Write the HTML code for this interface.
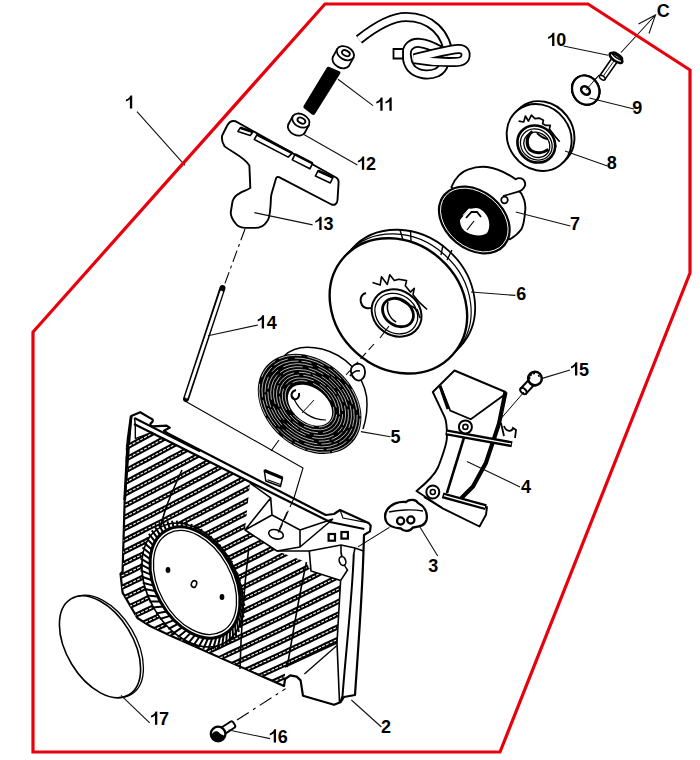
<!DOCTYPE html>
<html><head><meta charset="utf-8">
<style>
html,body{margin:0;padding:0;background:#fff;width:700px;height:760px;overflow:hidden}
svg{display:block}
.lab text{font-family:"Liberation Sans",sans-serif;font-weight:bold;font-size:18px;fill:#000}
.ld{stroke:#111;stroke-width:1.1;fill:none}
.o{stroke:#000;stroke-width:2;fill:none;stroke-linejoin:round;stroke-linecap:round}
.o1{stroke:#000;stroke-width:1.4;fill:none;stroke-linejoin:round;stroke-linecap:round}
.w{fill:#fff}
</style></head><body>
<svg width="700" height="760" viewBox="0 0 700 760">
<!-- PARTS -->
<g id="parts">
<!-- HOUSING part 2 -->
<defs>
<clipPath id="grill">
<path d="M126,441 L135,439 L152.4,432.1 L250,483 L245,530 L277,551 L306,562 L311,571 L340.6,580.6 L337,643 L285,667 L285,686 L169,635 L150,626 L137,618 L122.6,592.6 L120.5,573.7 L122.6,571.6 L124.7,500 Z"/>
</clipPath>
</defs>
<g id="housing">
<path d="M131.2,416 L140.2,412.2 L151.1,418.6 C154,420 153,422 150.5,423.5 C150,425 151,426.3 153,426.3 L166.6,425.7 L169.8,427.6 L164,430.8 L168,433.5 L325.7,515 L334,514 L340,510 L368.6,522.9 L370.7,525.7 L370,531.4 L364,535 L363.5,551 C362,600 358,650 355,695 L344,697 L340.4,702.3 L334,704.8 L303,695.8 L300.6,680.4 L296.7,676.6 L290.3,675.3 L285.1,679 L284,686 L169,635 L150,626 L137.4,618 L122.6,592.6 L120.5,573.7 L122.6,571.6 L124.7,500 Z" fill="#fff" stroke="#000" stroke-width="2.2" stroke-linejoin="round"/>
<g clip-path="url(#grill)">
<path d="M110,399.1 L116,395.8 L122,392.4 L128,389.0 L134,385.6 L140,382.2 L146,378.8 L152,375.4 L158,372.0 L164,368.6 L170,365.1 L176,361.7 L182,358.2 L188,354.7 L194,351.2 L200,347.7 L206,344.2 L212,340.7 L218,337.2 L224,333.6 L230,330.1 L236,326.5 L242,323.0 L248,319.4 L254,315.8 L260,312.2 L266,308.6 L272,305.0 L278,301.3 L284,297.7 L290,294.0 L296,290.4 L302,286.7 L308,283.0 L314,279.3 L320,275.6 L326,271.9 L332,268.2 L338,264.4 L344,260.7 L350,256.9 L356,253.2 L362,249.4 M110,410.5 L116,407.2 L122,403.9 L128,400.5 L134,397.2 L140,393.8 L146,390.4 L152,387.0 L158,383.6 L164,380.2 L170,376.8 L176,373.4 L182,369.9 L188,366.5 L194,363.0 L200,359.6 L206,356.1 L212,352.6 L218,349.1 L224,345.6 L230,342.1 L236,338.5 L242,335.0 L248,331.4 L254,327.9 L260,324.3 L266,320.7 L272,317.1 L278,313.5 L284,309.9 L290,306.3 L296,302.7 L302,299.0 L308,295.4 L314,291.7 L320,288.0 L326,284.3 L332,280.6 L338,276.9 L344,273.2 L350,269.5 L356,265.8 L362,262.0 M110,421.9 L116,418.6 L122,415.3 L128,412.0 L134,408.7 L140,405.3 L146,402.0 L152,398.6 L158,395.3 L164,391.9 L170,388.5 L176,385.1 L182,381.7 L188,378.3 L194,374.8 L200,371.4 L206,367.9 L212,364.5 L218,361.0 L224,357.5 L230,354.0 L236,350.5 L242,347.0 L248,343.5 L254,340.0 L260,336.4 L266,332.9 L272,329.3 L278,325.7 L284,322.2 L290,318.6 L296,315.0 L302,311.3 L308,307.7 L314,304.1 L320,300.4 L326,296.8 L332,293.1 L338,289.4 L344,285.7 L350,282.0 L356,278.3 L362,274.6 M110,433.3 L116,430.1 L122,426.8 L128,423.5 L134,420.2 L140,416.9 L146,413.6 L152,410.2 L158,406.9 L164,403.6 L170,400.2 L176,396.8 L182,393.4 L188,390.0 L194,386.6 L200,383.2 L206,379.8 L212,376.4 L218,372.9 L224,369.5 L230,366.0 L236,362.5 L242,359.1 L248,355.6 L254,352.1 L260,348.5 L266,345.0 L272,341.5 L278,337.9 L284,334.4 L290,330.8 L296,327.2 L302,323.7 L308,320.1 L314,316.5 L320,312.8 L326,309.2 L332,305.6 L338,301.9 L344,298.3 L350,294.6 L356,290.9 L362,287.2 M110,444.7 L116,441.5 L122,438.2 L128,435.0 L134,431.7 L140,428.4 L146,425.1 L152,421.8 L158,418.5 L164,415.2 L170,411.9 L176,408.5 L182,405.2 L188,401.8 L194,398.5 L200,395.1 L206,391.7 L212,388.3 L218,384.9 L224,381.4 L230,378.0 L236,374.6 L242,371.1 L248,367.6 L254,364.2 L260,360.7 L266,357.2 L272,353.7 L278,350.1 L284,346.6 L290,343.1 L296,339.5 L302,336.0 L308,332.4 L314,328.8 L320,325.2 L326,321.6 L332,318.0 L338,314.4 L344,310.8 L350,307.1 L356,303.5 L362,299.8 M110,456.1 L116,452.9 L122,449.7 L128,446.5 L134,443.2 L140,440.0 L146,436.7 L152,433.5 L158,430.2 L164,426.9 L170,423.6 L176,420.3 L182,416.9 L188,413.6 L194,410.3 L200,406.9 L206,403.5 L212,400.2 L218,396.8 L224,393.4 L230,390.0 L236,386.6 L242,383.1 L248,379.7 L254,376.2 L260,372.8 L266,369.3 L272,365.8 L278,362.4 L284,358.9 L290,355.3 L296,351.8 L302,348.3 L308,344.8 L314,341.2 L320,337.6 L326,334.1 L332,330.5 L338,326.9 L344,323.3 L350,319.7 L356,316.1 L362,312.4 M110,467.5 L116,464.4 L122,461.2 L128,458.0 L134,454.8 L140,451.5 L146,448.3 L152,445.1 L158,441.8 L164,438.5 L170,435.3 L176,432.0 L182,428.7 L188,425.4 L194,422.1 L200,418.7 L206,415.4 L212,412.0 L218,408.7 L224,405.3 L230,401.9 L236,398.6 L242,395.2 L248,391.8 L254,388.3 L260,384.9 L266,381.5 L272,378.0 L278,374.6 L284,371.1 L290,367.6 L296,364.1 L302,360.6 L308,357.1 L314,353.6 L320,350.0 L326,346.5 L332,343.0 L338,339.4 L344,335.8 L350,332.2 L356,328.6 L362,325.0 M110,479.0 L116,475.8 L122,472.6 L128,469.5 L134,466.3 L140,463.1 L146,459.9 L152,456.7 L158,453.4 L164,450.2 L170,447.0 L176,443.7 L182,440.4 L188,437.2 L194,433.9 L200,430.6 L206,427.3 L212,423.9 L218,420.6 L224,417.3 L230,413.9 L236,410.6 L242,407.2 L248,403.8 L254,400.4 L260,397.0 L266,393.6 L272,390.2 L278,386.8 L284,383.3 L290,379.9 L296,376.4 L302,372.9 L308,369.4 L314,366.0 L320,362.5 L326,358.9 L332,355.4 L338,351.9 L344,348.3 L350,344.8 L356,341.2 L362,337.6 M110,490.4 L116,487.2 L122,484.1 L128,481.0 L134,477.8 L140,474.6 L146,471.5 L152,468.3 L158,465.1 L164,461.9 L170,458.6 L176,455.4 L182,452.2 L188,448.9 L194,445.7 L200,442.4 L206,439.1 L212,435.8 L218,432.5 L224,429.2 L230,425.9 L236,422.6 L242,419.2 L248,415.9 L254,412.5 L260,409.1 L266,405.8 L272,402.4 L278,399.0 L284,395.6 L290,392.1 L296,388.7 L302,385.3 L308,381.8 L314,378.3 L320,374.9 L326,371.4 L332,367.9 L338,364.4 L344,360.9 L350,357.3 L356,353.8 L362,350.2 M110,501.8 L116,498.7 L122,495.6 L128,492.4 L134,489.3 L140,486.2 L146,483.0 L152,479.9 L158,476.7 L164,473.5 L170,470.3 L176,467.1 L182,463.9 L188,460.7 L194,457.5 L200,454.2 L206,451.0 L212,447.7 L218,444.4 L224,441.2 L230,437.9 L236,434.6 L242,431.3 L248,427.9 L254,424.6 L260,421.3 L266,417.9 L272,414.5 L278,411.2 L284,407.8 L290,404.4 L296,401.0 L302,397.6 L308,394.1 L314,390.7 L320,387.3 L326,383.8 L332,380.3 L338,376.9 L344,373.4 L350,369.9 L356,366.4 L362,362.8 M110,513.2 L116,510.1 L122,507.0 L128,503.9 L134,500.8 L140,497.7 L146,494.6 L152,491.5 L158,488.3 L164,485.2 L170,482.0 L176,478.9 L182,475.7 L188,472.5 L194,469.3 L200,466.1 L206,462.8 L212,459.6 L218,456.4 L224,453.1 L230,449.9 L236,446.6 L242,443.3 L248,440.0 L254,436.7 L260,433.4 L266,430.1 L272,426.7 L278,423.4 L284,420.0 L290,416.7 L296,413.3 L302,409.9 L308,406.5 L314,403.1 L320,399.7 L326,396.2 L332,392.8 L338,389.4 L344,385.9 L350,382.4 L356,378.9 L362,375.5 M110,524.6 L116,521.5 L122,518.5 L128,515.4 L134,512.4 L140,509.3 L146,506.2 L152,503.1 L158,500.0 L164,496.8 L170,493.7 L176,490.6 L182,487.4 L188,484.3 L194,481.1 L200,477.9 L206,474.7 L212,471.5 L218,468.3 L224,465.1 L230,461.8 L236,458.6 L242,455.3 L248,452.1 L254,448.8 L260,445.5 L266,442.2 L272,438.9 L278,435.6 L284,432.3 L290,428.9 L296,425.6 L302,422.2 L308,418.8 L314,415.5 L320,412.1 L326,408.7 L332,405.3 L338,401.8 L344,398.4 L350,395.0 L356,391.5 L362,388.1 M110,536.0 L116,533.0 L122,529.9 L128,526.9 L134,523.9 L140,520.8 L146,517.8 L152,514.7 L158,511.6 L164,508.5 L170,505.4 L176,502.3 L182,499.2 L188,496.0 L194,492.9 L200,489.7 L206,486.6 L212,483.4 L218,480.2 L224,477.0 L230,473.8 L236,470.6 L242,467.4 L248,464.1 L254,460.9 L260,457.6 L266,454.4 L272,451.1 L278,447.8 L284,444.5 L290,441.2 L296,437.9 L302,434.5 L308,431.2 L314,427.8 L320,424.5 L326,421.1 L332,417.7 L338,414.3 L344,410.9 L350,407.5 L356,404.1 L362,400.7 M110,547.4 L116,544.4 L122,541.4 L128,538.4 L134,535.4 L140,532.4 L146,529.3 L152,526.3 L158,523.2 L164,520.2 L170,517.1 L176,514.0 L182,510.9 L188,507.8 L194,504.7 L200,501.6 L206,498.4 L212,495.3 L218,492.1 L224,489.0 L230,485.8 L236,482.6 L242,479.4 L248,476.2 L254,473.0 L260,469.7 L266,466.5 L272,463.2 L278,460.0 L284,456.7 L290,453.4 L296,450.1 L302,446.8 L308,443.5 L314,440.2 L320,436.9 L326,433.5 L332,430.2 L338,426.8 L344,423.5 L350,420.1 L356,416.7 L362,413.3 M110,558.8 L116,555.8 L122,552.9 L128,549.9 L134,546.9 L140,543.9 L146,540.9 L152,537.9 L158,534.9 L164,531.8 L170,528.8 L176,525.7 L182,522.7 L188,519.6 L194,516.5 L200,513.4 L206,510.3 L212,507.2 L218,504.0 L224,500.9 L230,497.8 L236,494.6 L242,491.4 L248,488.2 L254,485.1 L260,481.9 L266,478.6 L272,475.4 L278,472.2 L284,469.0 L290,465.7 L296,462.4 L302,459.2 L308,455.9 L314,452.6 L320,449.3 L326,446.0 L332,442.6 L338,439.3 L344,436.0 L350,432.6 L356,429.2 L362,425.9 M110,570.2 L116,567.3 L122,564.3 L128,561.4 L134,558.4 L140,555.5 L146,552.5 L152,549.5 L158,546.5 L164,543.5 L170,540.5 L176,537.4 L182,534.4 L188,531.4 L194,528.3 L200,525.2 L206,522.2 L212,519.1 L218,516.0 L224,512.9 L230,509.7 L236,506.6 L242,503.5 L248,500.3 L254,497.1 L260,494.0 L266,490.8 L272,487.6 L278,484.4 L284,481.2 L290,478.0 L296,474.7 L302,471.5 L308,468.2 L314,465.0 L320,461.7 L326,458.4 L332,455.1 L338,451.8 L344,448.5 L350,445.2 L356,441.8 L362,438.5 M110,581.6 L116,578.7 L122,575.8 L128,572.9 L134,569.9 L140,567.0 L146,564.1 L152,561.1 L158,558.1 L164,555.2 L170,552.2 L176,549.2 L182,546.2 L188,543.1 L194,540.1 L200,537.1 L206,534.0 L212,531.0 L218,527.9 L224,524.8 L230,521.7 L236,518.6 L242,515.5 L248,512.4 L254,509.2 L260,506.1 L266,502.9 L272,499.8 L278,496.6 L284,493.4 L290,490.2 L296,487.0 L302,483.8 L308,480.6 L314,477.3 L320,474.1 L326,470.8 L332,467.6 L338,464.3 L344,461.0 L350,457.7 L356,454.4 L362,451.1 M110,593.0 L116,590.1 L122,587.3 L128,584.4 L134,581.5 L140,578.6 L146,575.6 L152,572.7 L158,569.8 L164,566.8 L170,563.9 L176,560.9 L182,557.9 L188,554.9 L194,551.9 L200,548.9 L206,545.9 L212,542.8 L218,539.8 L224,536.7 L230,533.7 L236,530.6 L242,527.5 L248,524.4 L254,521.3 L260,518.2 L266,515.1 L272,512.0 L278,508.8 L284,505.7 L290,502.5 L296,499.3 L302,496.1 L308,492.9 L314,489.7 L320,486.5 L326,483.3 L332,480.0 L338,476.8 L344,473.5 L350,470.3 L356,467.0 L362,463.7 M110,604.4 L116,601.6 L122,598.7 L128,595.9 L134,593.0 L140,590.1 L146,587.2 L152,584.3 L158,581.4 L164,578.5 L170,575.5 L176,572.6 L182,569.7 L188,566.7 L194,563.7 L200,560.7 L206,557.7 L212,554.7 L218,551.7 L224,548.7 L230,545.7 L236,542.6 L242,539.6 L248,536.5 L254,533.4 L260,530.3 L266,527.2 L272,524.1 L278,521.0 L284,517.9 L290,514.7 L296,511.6 L302,508.4 L308,505.3 L314,502.1 L320,498.9 L326,495.7 L332,492.5 L338,489.3 L344,486.0 L350,482.8 L356,479.6 L362,476.3 M110,615.8 L116,613.0 L122,610.2 L128,607.3 L134,604.5 L140,601.7 L146,598.8 L152,595.9 L158,593.0 L164,590.1 L170,587.2 L176,584.3 L182,581.4 L188,578.5 L194,575.5 L200,572.6 L206,569.6 L212,566.6 L218,563.6 L224,560.6 L230,557.6 L236,554.6 L242,551.6 L248,548.6 L254,545.5 L260,542.5 L266,539.4 L272,536.3 L278,533.2 L284,530.1 L290,527.0 L296,523.9 L302,520.8 L308,517.6 L314,514.5 L320,511.3 L326,508.1 L332,505.0 L338,501.8 L344,498.6 L350,495.4 L356,492.1 L362,488.9 M110,627.2 L116,624.4 L122,621.6 L128,618.8 L134,616.0 L140,613.2 L146,610.4 L152,607.5 L158,604.7 L164,601.8 L170,598.9 L176,596.0 L182,593.1 L188,590.2 L194,587.3 L200,584.4 L206,581.5 L212,578.5 L218,575.6 L224,572.6 L230,569.6 L236,566.6 L242,563.6 L248,560.6 L254,557.6 L260,554.6 L266,551.5 L272,548.5 L278,545.4 L284,542.4 L290,539.3 L296,536.2 L302,533.1 L308,530.0 L314,526.8 L320,523.7 L326,520.6 L332,517.4 L338,514.3 L344,511.1 L350,507.9 L356,504.7 L362,501.5 M110,638.6 L116,635.9 L122,633.1 L128,630.3 L134,627.5 L140,624.7 L146,621.9 L152,619.1 L158,616.3 L164,613.5 L170,610.6 L176,607.8 L182,604.9 L188,602.0 L194,599.1 L200,596.2 L206,593.3 L212,590.4 L218,587.5 L224,584.5 L230,581.6 L236,578.6 L242,575.7 L248,572.7 L254,569.7 L260,566.7 L266,563.7 L272,560.7 L278,557.6 L284,554.6 L290,551.5 L296,548.5 L302,545.4 L308,542.3 L314,539.2 L320,536.1 L326,533.0 L332,529.9 L338,526.7 L344,523.6 L350,520.4 L356,517.3 L362,514.1 M110,650.0 L116,647.3 L122,644.6 L128,641.8 L134,639.1 L140,636.3 L146,633.5 L152,630.7 L158,627.9 L164,625.1 L170,622.3 L176,619.5 L182,616.6 L188,613.8 L194,610.9 L200,608.1 L206,605.2 L212,602.3 L218,599.4 L224,596.5 L230,593.6 L236,590.6 L242,587.7 L248,584.7 L254,581.8 L260,578.8 L266,575.8 L272,572.8 L278,569.8 L284,566.8 L290,563.8 L296,560.8 L302,557.7 L308,554.7 L314,551.6 L320,548.5 L326,545.4 L332,542.3 L338,539.2 L344,536.1 L350,533.0 L356,529.9 L362,526.7 M110,661.4 L116,658.7 L122,656.0 L128,653.3 L134,650.6 L140,647.8 L146,645.1 L152,642.3 L158,639.6 L164,636.8 L170,634.0 L176,631.2 L182,628.4 L188,625.6 L194,622.7 L200,619.9 L206,617.0 L212,614.2 L218,611.3 L224,608.4 L230,605.5 L236,602.6 L242,599.7 L248,596.8 L254,593.9 L260,590.9 L266,588.0 L272,585.0 L278,582.0 L284,579.1 L290,576.1 L296,573.1 L302,570.0 L308,567.0 L314,564.0 L320,560.9 L326,557.9 L332,554.8 L338,551.7 L344,548.6 L350,545.5 L356,542.4 L362,539.3 M110,672.8 L116,670.2 L122,667.5 L128,664.8 L134,662.1 L140,659.4 L146,656.7 L152,653.9 L158,651.2 L164,648.5 L170,645.7 L176,642.9 L182,640.1 L188,637.3 L194,634.5 L200,631.7 L206,628.9 L212,626.1 L218,623.2 L224,620.4 L230,617.5 L236,614.6 L242,611.8 L248,608.9 L254,606.0 L260,603.0 L266,600.1 L272,597.2 L278,594.2 L284,591.3 L290,588.3 L296,585.3 L302,582.4 L308,579.4 L314,576.4 L320,573.3 L326,570.3 L332,567.3 L338,564.2 L344,561.2 L350,558.1 L356,555.0 L362,551.9 M110,684.2 L116,681.6 L122,678.9 L128,676.3 L134,673.6 L140,670.9 L146,668.2 L152,665.5 L158,662.8 L164,660.1 L170,657.4 L176,654.6 L182,651.9 L188,649.1 L194,646.4 L200,643.6 L206,640.8 L212,638.0 L218,635.2 L224,632.3 L230,629.5 L236,626.7 L242,623.8 L248,620.9 L254,618.1 L260,615.2 L266,612.3 L272,609.4 L278,606.4 L284,603.5 L290,600.6 L296,597.6 L302,594.7 L308,591.7 L314,588.7 L320,585.7 L326,582.7 L332,579.7 L338,576.7 L344,573.7 L350,570.6 L356,567.6 L362,564.5 M110,695.6 L116,693.0 L122,690.4 L128,687.8 L134,685.1 L140,682.5 L146,679.8 L152,677.2 L158,674.5 L164,671.8 L170,669.1 L176,666.4 L182,663.6 L188,660.9 L194,658.2 L200,655.4 L206,652.6 L212,649.9 L218,647.1 L224,644.3 L230,641.5 L236,638.7 L242,635.8 L248,633.0 L254,630.1 L260,627.3 L266,624.4 L272,621.5 L278,618.7 L284,615.8 L290,612.8 L296,609.9 L302,607.0 L308,604.1 L314,601.1 L320,598.1 L326,595.2 L332,592.2 L338,589.2 L344,586.2 L350,583.2 L356,580.2 L362,577.1 M110,707.0 L116,704.5 L122,701.9 L128,699.3 L134,696.7 L140,694.0 L146,691.4 L152,688.8 L158,686.1 L164,683.4 L170,680.8 L176,678.1 L182,675.4 L188,672.7 L194,670.0 L200,667.2 L206,664.5 L212,661.7 L218,659.0 L224,656.2 L230,653.4 L236,650.7 L242,647.9 L248,645.1 L254,642.2 L260,639.4 L266,636.6 L272,633.7 L278,630.9 L284,628.0 L290,625.1 L296,622.2 L302,619.3 L308,616.4 L314,613.5 L320,610.5 L326,607.6 L332,604.7 L338,601.7 L344,598.7 L350,595.7 L356,592.7 L362,589.7 M110,718.5 L116,715.9 L122,713.3 L128,710.8 L134,708.2 L140,705.6 L146,703.0 L152,700.4 L158,697.7 L164,695.1 L170,692.5 L176,689.8 L182,687.1 L188,684.5 L194,681.8 L200,679.1 L206,676.4 L212,673.6 L218,670.9 L224,668.2 L230,665.4 L236,662.7 L242,659.9 L248,657.1 L254,654.3 L260,651.5 L266,648.7 L272,645.9 L278,643.1 L284,640.2 L290,637.4 L296,634.5 L302,631.6 L308,628.7 L314,625.9 L320,623.0 L326,620.0 L332,617.1 L338,614.2 L344,611.2 L350,608.3 L356,605.3 L362,602.3 M110,729.9 L116,727.3 L122,724.8 L128,722.3 L134,719.7 L140,717.1 L146,714.6 L152,712.0 L158,709.4 L164,706.8 L170,704.1 L176,701.5 L182,698.9 L188,696.2 L194,693.6 L200,690.9 L206,688.2 L212,685.5 L218,682.8 L224,680.1 L230,677.4 L236,674.7 L242,671.9 L248,669.2 L254,666.4 L260,663.6 L266,660.9 L272,658.1 L278,655.3 L284,652.5 L290,649.6 L296,646.8 L302,644.0 L308,641.1 L314,638.2 L320,635.4 L326,632.5 L332,629.6 L338,626.7 L344,623.8 L350,620.8 L356,617.9 L362,614.9 M110,741.3 L116,738.8 L122,736.3 L128,733.7 L134,731.2 L140,728.7 L146,726.1 L152,723.6 L158,721.0 L164,718.4 L170,715.8 L176,713.2 L182,710.6 L188,708.0 L194,705.4 L200,702.7 L206,700.1 L212,697.4 L218,694.7 L224,692.1 L230,689.4 L236,686.7 L242,684.0 L248,681.2 L254,678.5 L260,675.8 L266,673.0 L272,670.2 L278,667.5 L284,664.7 L290,661.9 L296,659.1 L302,656.3 L308,653.4 L314,650.6 L320,647.8 L326,644.9 L332,642.0 L338,639.2 L344,636.3 L350,633.4 L356,630.5 L362,627.5 M110,752.7 L116,750.2 L122,747.7 L128,745.2 L134,742.7 L140,740.2 L146,737.7 L152,735.2 L158,732.6 L164,730.1 L170,727.5 L176,725.0 L182,722.4 L188,719.8 L194,717.2 L200,714.6 L206,711.9 L212,709.3 L218,706.7 L224,704.0 L230,701.4 L236,698.7 L242,696.0 L248,693.3 L254,690.6 L260,687.9 L266,685.2 L272,682.4 L278,679.7 L284,676.9 L290,674.2 L296,671.4 L302,668.6 L308,665.8 L314,663.0 L320,660.2 L326,657.3 L332,654.5 L338,651.7 L344,648.8 L350,645.9 L356,643.0 L362,640.2 M110,764.1 L116,761.6 L122,759.2 L128,756.7 L134,754.3 L140,751.8 L146,749.3 L152,746.8 L158,744.3 L164,741.7 L170,739.2 L176,736.7 L182,734.1 L188,731.6 L194,729.0 L200,726.4 L206,723.8 L212,721.2 L218,718.6 L224,716.0 L230,713.3 L236,710.7 L242,708.0 L248,705.4 L254,702.7 L260,700.0 L266,697.3 L272,694.6 L278,691.9 L284,689.2 L290,686.4 L296,683.7 L302,680.9 L308,678.1 L314,675.4 L320,672.6 L326,669.8 L332,667.0 L338,664.1 L344,661.3 L350,658.5 L356,655.6 L362,652.8 M110,775.5 L116,773.1 L122,770.6 L128,768.2 L134,765.8 L140,763.3 L146,760.9 L152,758.4 L158,755.9 L164,753.4 L170,750.9 L176,748.4 L182,745.9 L188,743.3 L194,740.8 L200,738.2 L206,735.7 L212,733.1 L218,730.5 L224,727.9 L230,725.3 L236,722.7 L242,720.1 L248,717.4 L254,714.8 L260,712.1 L266,709.5 L272,706.8 L278,704.1 L284,701.4 L290,698.7 L296,696.0 L302,693.2 L308,690.5 L314,687.7 L320,685.0 L326,682.2 L332,679.4 L338,676.6 L344,673.8 L350,671.0 L356,668.2 L362,665.4 M110,786.9 L116,784.5 L122,782.1 L128,779.7 L134,777.3 L140,774.9 L146,772.4 L152,770.0 L158,767.5 L164,765.1 L170,762.6 L176,760.1 L182,757.6 L188,755.1 L194,752.6 L200,750.1 L206,747.5 L212,745.0 L218,742.4 L224,739.9 L230,737.3 L236,734.7 L242,732.1 L248,729.5 L254,726.9 L260,724.2 L266,721.6 L272,718.9 L278,716.3 L284,713.6 L290,710.9 L296,708.2 L302,705.5 L308,702.8 L314,700.1 L320,697.4 L326,694.6 L332,691.9 L338,689.1 L344,686.4 L350,683.6 L356,680.8 L362,678.0 M110,798.3 L116,795.9 L122,793.6 L128,791.2 L134,788.8 L140,786.4 L146,784.0 L152,781.6 L158,779.2 L164,776.7 L170,774.3 L176,771.8 L182,769.4 L188,766.9 L194,764.4 L200,761.9 L206,759.4 L212,756.9 L218,754.3 L224,751.8 L230,749.3 L236,746.7 L242,744.1 L248,741.5 L254,739.0 L260,736.4 L266,733.7 L272,731.1 L278,728.5 L284,725.9 L290,723.2 L296,720.5 L302,717.9 L308,715.2 L314,712.5 L320,709.8 L326,707.1 L332,704.3 L338,701.6 L344,698.9 L350,696.1 L356,693.3 L362,690.6 M110,809.7 L116,807.4 L122,805.0 L128,802.7 L134,800.3 L140,798.0 L146,795.6 L152,793.2 L158,790.8 L164,788.4 L170,786.0 L176,783.5 L182,781.1 L188,778.7 L194,776.2 L200,773.7 L206,771.3 L212,768.8 L218,766.3 L224,763.8 L230,761.2 L236,758.7 L242,756.2 L248,753.6 L254,751.0 L260,748.5 L266,745.9 L272,743.3 L278,740.7 L284,738.1 L290,735.5 L296,732.8 L302,730.2 L308,727.5 L314,724.9 L320,722.2 L326,719.5 L332,716.8 L338,714.1 L344,711.4 L350,708.7 L356,705.9 L362,703.2 M110,821.1 L116,818.8 L122,816.5 L128,814.2 L134,811.8 L140,809.5 L146,807.2 L152,804.8 L158,802.4 L164,800.1 L170,797.7 L176,795.3 L182,792.9 L188,790.4 L194,788.0 L200,785.6 L206,783.1 L212,780.7 L218,778.2 L224,775.7 L230,773.2 L236,770.7 L242,768.2 L248,765.7 L254,763.1 L260,760.6 L266,758.0 L272,755.5 L278,752.9 L284,750.3 L290,747.7 L296,745.1 L302,742.5 L308,739.9 L314,737.2 L320,734.6 L326,731.9 L332,729.3 L338,726.6 L344,723.9 L350,721.2 L356,718.5 L362,715.8 M110,832.5 L116,830.2 L122,828.0 L128,825.7 L134,823.4 L140,821.1 L146,818.7 L152,816.4 L158,814.1 L164,811.7 L170,809.4 L176,807.0 L182,804.6 L188,802.2 L194,799.8 L200,797.4 L206,795.0 L212,792.5 L218,790.1 L224,787.6 L230,785.2 L236,782.7 L242,780.2 L248,777.7 L254,775.2 L260,772.7 L266,770.2 L272,767.7 L278,765.1 L284,762.6 L290,760.0 L296,757.4 L302,754.8 L308,752.2 L314,749.6 L320,747.0 L326,744.4 L332,741.7 L338,739.1 L344,736.4 L350,733.8 L356,731.1 L362,728.4 M110,843.9 L116,841.7 L122,839.4 L128,837.2 L134,834.9 L140,832.6 L146,830.3 L152,828.0 L158,825.7 L164,823.4 L170,821.0 L176,818.7 L182,816.4 L188,814.0 L194,811.6 L200,809.2 L206,806.8 L212,804.4 L218,802.0 L224,799.6 L230,797.2 L236,794.7 L242,792.3 L248,789.8 L254,787.3 L260,784.8 L266,782.3 L272,779.8 L278,777.3 L284,774.8 L290,772.2 L296,769.7 L302,767.1 L308,764.6 L314,762.0 L320,759.4 L326,756.8 L332,754.2 L338,751.6 L344,748.9 L350,746.3 L356,743.7 L362,741.0 M110,855.3 L116,853.1 L122,850.9 L128,848.6 L134,846.4 L140,844.2 L146,841.9 L152,839.6 L158,837.3 L164,835.0 L170,832.7 L176,830.4 L182,828.1 L188,825.8 L194,823.4 L200,821.1 L206,818.7 L212,816.3 L218,813.9 L224,811.5 L230,809.1 L236,806.7 L242,804.3 L248,801.9 L254,799.4 L260,797.0 L266,794.5 L272,792.0 L278,789.5 L284,787.0 L290,784.5 L296,782.0 L302,779.5 L308,776.9 L314,774.4 L320,771.8 L326,769.2 L332,766.7 L338,764.1 L344,761.5 L350,758.9 L356,756.2 L362,753.6 M110,866.7 L116,864.5 L122,862.3 L128,860.1 L134,857.9 L140,855.7 L146,853.5 L152,851.2 L158,849.0 L164,846.7 L170,844.4 L176,842.1 L182,839.8 L188,837.5 L194,835.2 L200,832.9 L206,830.6 L212,828.2 L218,825.9 L224,823.5 L230,821.1 L236,818.7 L242,816.3 L248,813.9 L254,811.5 L260,809.1 L266,806.6 L272,804.2 L278,801.7 L284,799.3 L290,796.8 L296,794.3 L302,791.8 L308,789.3 L314,786.7 L320,784.2 L326,781.7 L332,779.1 L338,776.6 L344,774.0 L350,771.4 L356,768.8 L362,766.2 M110,878.1 L116,876.0 L122,873.8 L128,871.6 L134,869.4 L140,867.2 L146,865.0 L152,862.8 L158,860.6 L164,858.4 L170,856.1 L176,853.9 L182,851.6 L188,849.3 L194,847.0 L200,844.7 L206,842.4 L212,840.1 L218,837.8 L224,835.4 L230,833.1 L236,830.7 L242,828.4 L248,826.0 L254,823.6 L260,821.2 L266,818.8 L272,816.4 L278,813.9 L284,811.5 L290,809.0 L296,806.6 L302,804.1 L308,801.6 L314,799.1 L320,796.6 L326,794.1 L332,791.6 L338,789.0 L344,786.5 L350,783.9 L356,781.4 L362,778.8 M110,889.5 L116,887.4 L122,885.3 L128,883.1 L134,881.0 L140,878.8 L146,876.6 L152,874.4 L158,872.2 L164,870.0 L170,867.8 L176,865.6 L182,863.3 L188,861.1 L194,858.8 L200,856.6 L206,854.3 L212,852.0 L218,849.7 L224,847.4 L230,845.1 L236,842.7 L242,840.4 L248,838.0 L254,835.7 L260,833.3 L266,830.9 L272,828.5 L278,826.1 L284,823.7 L290,821.3 L296,818.9 L302,816.4 L308,814.0 L314,811.5 L320,809.0 L326,806.5 L332,804.0 L338,801.5 L344,799.0 L350,796.5 L356,794.0 L362,791.4 M110,900.9 L116,898.8 L122,896.7 L128,894.6 L134,892.5 L140,890.3 L146,888.2 L152,886.0 L158,883.9 L164,881.7 L170,879.5 L176,877.3 L182,875.1 L188,872.9 L194,870.6 L200,868.4 L206,866.1 L212,863.9 L218,861.6 L224,859.3 L230,857.0 L236,854.7 L242,852.4 L248,850.1 L254,847.8 L260,845.4 L266,843.1 L272,840.7 L278,838.3 L284,836.0 L290,833.6 L296,831.2 L302,828.7 L308,826.3 L314,823.9 L320,821.4 L326,819.0 L332,816.5 L338,814.0 L344,811.5 L350,809.0 L356,806.5 L362,804.0 M110,912.3 L116,910.3 L122,908.2 L128,906.1 L134,904.0 L140,901.9 L146,899.8 L152,897.6 L158,895.5 L164,893.4 L170,891.2 L176,889.0 L182,886.8 L188,884.6 L194,882.4 L200,880.2 L206,878.0 L212,875.8 L218,873.5 L224,871.3 L230,869.0 L236,866.7 L242,864.5 L248,862.2 L254,859.9 L260,857.5 L266,855.2 L272,852.9 L278,850.5 L284,848.2 L290,845.8 L296,843.4 L302,841.1 L308,838.7 L314,836.3 L320,833.8 L326,831.4 L332,829.0 L338,826.5 L344,824.1 L350,821.6 L356,819.1 L362,816.6 M110,923.7 L116,921.7 L122,919.6 L128,917.6 L134,915.5 L140,913.4 L146,911.3 L152,909.2 L158,907.1 L164,905.0 L170,902.9 L176,900.7 L182,898.6 L188,896.4 L194,894.3 L200,892.1 L206,889.9 L212,887.7 L218,885.5 L224,883.2 L230,881.0 L236,878.8 L242,876.5 L248,874.2 L254,872.0 L260,869.7 L266,867.4 L272,865.1 L278,862.7 L284,860.4 L290,858.1 L296,855.7 L302,853.4 L308,851.0 L314,848.6 L320,846.2 L326,843.8 L332,841.4 L338,839.0 L344,836.6 L350,834.1 L356,831.7 L362,829.2 M110,935.1 L116,933.1 L122,931.1 L128,929.1 L134,927.0 L140,925.0 L146,922.9 L152,920.9 L158,918.8 L164,916.7 L170,914.6 L176,912.5 L182,910.3 L188,908.2 L194,906.1 L200,903.9 L206,901.7 L212,899.6 L218,897.4 L224,895.2 L230,893.0 L236,890.8 L242,888.5 L248,886.3 L254,884.0 L260,881.8 L266,879.5 L272,877.2 L278,875.0 L284,872.7 L290,870.3 L296,868.0 L302,865.7 L308,863.4 L314,861.0 L320,858.6 L326,856.3 L332,853.9 L338,851.5 L344,849.1 L350,846.7 L356,844.3 L362,841.8 M110,946.5 L116,944.6 L122,942.6 L128,940.6 L134,938.6 L140,936.5 L146,934.5 L152,932.5 L158,930.4 L164,928.3 L170,926.3 L176,924.2 L182,922.1 L188,920.0 L194,917.9 L200,915.7 L206,913.6 L212,911.4 L218,909.3 L224,907.1 L230,904.9 L236,902.8 L242,900.6 L248,898.4 L254,896.1 L260,893.9 L266,891.7 L272,889.4 L278,887.2 L284,884.9 L290,882.6 L296,880.3 L302,878.0 L308,875.7 L314,873.4 L320,871.0 L326,868.7 L332,866.4 L338,864.0 L344,861.6 L350,859.2 L356,856.8 L362,854.4 M110,958.0 L116,956.0 L122,954.0 L128,952.1 L134,950.1 L140,948.1 L146,946.1 L152,944.1 L158,942.0 L164,940.0 L170,938.0 L176,935.9 L182,933.8 L188,931.8 L194,929.7 L200,927.6 L206,925.5 L212,923.3 L218,921.2 L224,919.1 L230,916.9 L236,914.8 L242,912.6 L248,910.4 L254,908.2 L260,906.0 L266,903.8 L272,901.6 L278,899.4 L284,897.1 L290,894.9 L296,892.6 L302,890.3 L308,888.0 L314,885.8 L320,883.5 L326,881.1 L332,878.8 L338,876.5 L344,874.1 L350,871.8 L356,869.4 L362,867.0 M110,969.4 L116,967.4 L122,965.5 L128,963.6 L134,961.6 L140,959.6 L146,957.7 L152,955.7 L158,953.7 L164,951.7 L170,949.6 L176,947.6 L182,945.6 L188,943.5 L194,941.5 L200,939.4 L206,937.3 L212,935.2 L218,933.1 L224,931.0 L230,928.9 L236,926.8 L242,924.6 L248,922.5 L254,920.3 L260,918.1 L266,916.0 L272,913.8 L278,911.6 L284,909.4 L290,907.1 L296,904.9 L302,902.7 L308,900.4 L314,898.1 L320,895.9 L326,893.6 L332,891.3 L338,889.0 L344,886.7 L350,884.3 L356,882.0 L362,879.6 M110,980.8 L116,978.9 L122,977.0 L128,975.0 L134,973.1 L140,971.2 L146,969.2 L152,967.3 L158,965.3 L164,963.3 L170,961.3 L176,959.3 L182,957.3 L188,955.3 L194,953.3 L200,951.2 L206,949.2 L212,947.1 L218,945.0 L224,943.0 L230,940.9 L236,938.8 L242,936.7 L248,934.5 L254,932.4 L260,930.3 L266,928.1 L272,925.9 L278,923.8 L284,921.6 L290,919.4 L296,917.2 L302,915.0 L308,912.7 L314,910.5 L320,908.3 L326,906.0 L332,903.7 L338,901.5 L344,899.2 L350,896.9 L356,894.6 L362,892.2 M110,992.2 L116,990.3 L122,988.4 L128,986.5 L134,984.6 L140,982.7 L146,980.8 L152,978.9 L158,976.9 L164,975.0 L170,973.0 L176,971.1 L182,969.1 L188,967.1 L194,965.1 L200,963.1 L206,961.0 L212,959.0 L218,957.0 L224,954.9 L230,952.9 L236,950.8 L242,948.7 L248,946.6 L254,944.5 L260,942.4 L266,940.3 L272,938.1 L278,936.0 L284,933.8 L290,931.7 L296,929.5 L302,927.3 L308,925.1 L314,922.9 L320,920.7 L326,918.4 L332,916.2 L338,914.0 L344,911.7 L350,909.4 L356,907.1 L362,904.9 M110,1003.6 L116,1001.7 L122,999.9 L128,998.0 L134,996.2 L140,994.3 L146,992.4 L152,990.5 L158,988.6 L164,986.6 L170,984.7 L176,982.8 L182,980.8 L188,978.9 L194,976.9 L200,974.9 L206,972.9 L212,970.9 L218,968.9 L224,966.9 L230,964.8 L236,962.8 L242,960.7 L248,958.7 L254,956.6 L260,954.5 L266,952.4 L272,950.3 L278,948.2 L284,946.1 L290,943.9 L296,941.8 L302,939.6 L308,937.4 L314,935.3 L320,933.1 L326,930.9 L332,928.7 L338,926.4 L344,924.2 L350,922.0 L356,919.7 L362,917.5" stroke="#000" stroke-width="5.1" fill="none" stroke-linejoin="round"/>
<path d="M110,399.1 L116,395.8 L122,392.4 L128,389.0 L134,385.6 L140,382.2 L146,378.8 L152,375.4 L158,372.0 L164,368.6 L170,365.1 L176,361.7 L182,358.2 L188,354.7 L194,351.2 L200,347.7 L206,344.2 L212,340.7 L218,337.2 L224,333.6 L230,330.1 L236,326.5 L242,323.0 L248,319.4 L254,315.8 L260,312.2 L266,308.6 L272,305.0 L278,301.3 L284,297.7 L290,294.0 L296,290.4 L302,286.7 L308,283.0 L314,279.3 L320,275.6 L326,271.9 L332,268.2 L338,264.4 L344,260.7 L350,256.9 L356,253.2 L362,249.4 M110,410.5 L116,407.2 L122,403.9 L128,400.5 L134,397.2 L140,393.8 L146,390.4 L152,387.0 L158,383.6 L164,380.2 L170,376.8 L176,373.4 L182,369.9 L188,366.5 L194,363.0 L200,359.6 L206,356.1 L212,352.6 L218,349.1 L224,345.6 L230,342.1 L236,338.5 L242,335.0 L248,331.4 L254,327.9 L260,324.3 L266,320.7 L272,317.1 L278,313.5 L284,309.9 L290,306.3 L296,302.7 L302,299.0 L308,295.4 L314,291.7 L320,288.0 L326,284.3 L332,280.6 L338,276.9 L344,273.2 L350,269.5 L356,265.8 L362,262.0 M110,421.9 L116,418.6 L122,415.3 L128,412.0 L134,408.7 L140,405.3 L146,402.0 L152,398.6 L158,395.3 L164,391.9 L170,388.5 L176,385.1 L182,381.7 L188,378.3 L194,374.8 L200,371.4 L206,367.9 L212,364.5 L218,361.0 L224,357.5 L230,354.0 L236,350.5 L242,347.0 L248,343.5 L254,340.0 L260,336.4 L266,332.9 L272,329.3 L278,325.7 L284,322.2 L290,318.6 L296,315.0 L302,311.3 L308,307.7 L314,304.1 L320,300.4 L326,296.8 L332,293.1 L338,289.4 L344,285.7 L350,282.0 L356,278.3 L362,274.6 M110,433.3 L116,430.1 L122,426.8 L128,423.5 L134,420.2 L140,416.9 L146,413.6 L152,410.2 L158,406.9 L164,403.6 L170,400.2 L176,396.8 L182,393.4 L188,390.0 L194,386.6 L200,383.2 L206,379.8 L212,376.4 L218,372.9 L224,369.5 L230,366.0 L236,362.5 L242,359.1 L248,355.6 L254,352.1 L260,348.5 L266,345.0 L272,341.5 L278,337.9 L284,334.4 L290,330.8 L296,327.2 L302,323.7 L308,320.1 L314,316.5 L320,312.8 L326,309.2 L332,305.6 L338,301.9 L344,298.3 L350,294.6 L356,290.9 L362,287.2 M110,444.7 L116,441.5 L122,438.2 L128,435.0 L134,431.7 L140,428.4 L146,425.1 L152,421.8 L158,418.5 L164,415.2 L170,411.9 L176,408.5 L182,405.2 L188,401.8 L194,398.5 L200,395.1 L206,391.7 L212,388.3 L218,384.9 L224,381.4 L230,378.0 L236,374.6 L242,371.1 L248,367.6 L254,364.2 L260,360.7 L266,357.2 L272,353.7 L278,350.1 L284,346.6 L290,343.1 L296,339.5 L302,336.0 L308,332.4 L314,328.8 L320,325.2 L326,321.6 L332,318.0 L338,314.4 L344,310.8 L350,307.1 L356,303.5 L362,299.8 M110,456.1 L116,452.9 L122,449.7 L128,446.5 L134,443.2 L140,440.0 L146,436.7 L152,433.5 L158,430.2 L164,426.9 L170,423.6 L176,420.3 L182,416.9 L188,413.6 L194,410.3 L200,406.9 L206,403.5 L212,400.2 L218,396.8 L224,393.4 L230,390.0 L236,386.6 L242,383.1 L248,379.7 L254,376.2 L260,372.8 L266,369.3 L272,365.8 L278,362.4 L284,358.9 L290,355.3 L296,351.8 L302,348.3 L308,344.8 L314,341.2 L320,337.6 L326,334.1 L332,330.5 L338,326.9 L344,323.3 L350,319.7 L356,316.1 L362,312.4 M110,467.5 L116,464.4 L122,461.2 L128,458.0 L134,454.8 L140,451.5 L146,448.3 L152,445.1 L158,441.8 L164,438.5 L170,435.3 L176,432.0 L182,428.7 L188,425.4 L194,422.1 L200,418.7 L206,415.4 L212,412.0 L218,408.7 L224,405.3 L230,401.9 L236,398.6 L242,395.2 L248,391.8 L254,388.3 L260,384.9 L266,381.5 L272,378.0 L278,374.6 L284,371.1 L290,367.6 L296,364.1 L302,360.6 L308,357.1 L314,353.6 L320,350.0 L326,346.5 L332,343.0 L338,339.4 L344,335.8 L350,332.2 L356,328.6 L362,325.0 M110,479.0 L116,475.8 L122,472.6 L128,469.5 L134,466.3 L140,463.1 L146,459.9 L152,456.7 L158,453.4 L164,450.2 L170,447.0 L176,443.7 L182,440.4 L188,437.2 L194,433.9 L200,430.6 L206,427.3 L212,423.9 L218,420.6 L224,417.3 L230,413.9 L236,410.6 L242,407.2 L248,403.8 L254,400.4 L260,397.0 L266,393.6 L272,390.2 L278,386.8 L284,383.3 L290,379.9 L296,376.4 L302,372.9 L308,369.4 L314,366.0 L320,362.5 L326,358.9 L332,355.4 L338,351.9 L344,348.3 L350,344.8 L356,341.2 L362,337.6 M110,490.4 L116,487.2 L122,484.1 L128,481.0 L134,477.8 L140,474.6 L146,471.5 L152,468.3 L158,465.1 L164,461.9 L170,458.6 L176,455.4 L182,452.2 L188,448.9 L194,445.7 L200,442.4 L206,439.1 L212,435.8 L218,432.5 L224,429.2 L230,425.9 L236,422.6 L242,419.2 L248,415.9 L254,412.5 L260,409.1 L266,405.8 L272,402.4 L278,399.0 L284,395.6 L290,392.1 L296,388.7 L302,385.3 L308,381.8 L314,378.3 L320,374.9 L326,371.4 L332,367.9 L338,364.4 L344,360.9 L350,357.3 L356,353.8 L362,350.2 M110,501.8 L116,498.7 L122,495.6 L128,492.4 L134,489.3 L140,486.2 L146,483.0 L152,479.9 L158,476.7 L164,473.5 L170,470.3 L176,467.1 L182,463.9 L188,460.7 L194,457.5 L200,454.2 L206,451.0 L212,447.7 L218,444.4 L224,441.2 L230,437.9 L236,434.6 L242,431.3 L248,427.9 L254,424.6 L260,421.3 L266,417.9 L272,414.5 L278,411.2 L284,407.8 L290,404.4 L296,401.0 L302,397.6 L308,394.1 L314,390.7 L320,387.3 L326,383.8 L332,380.3 L338,376.9 L344,373.4 L350,369.9 L356,366.4 L362,362.8 M110,513.2 L116,510.1 L122,507.0 L128,503.9 L134,500.8 L140,497.7 L146,494.6 L152,491.5 L158,488.3 L164,485.2 L170,482.0 L176,478.9 L182,475.7 L188,472.5 L194,469.3 L200,466.1 L206,462.8 L212,459.6 L218,456.4 L224,453.1 L230,449.9 L236,446.6 L242,443.3 L248,440.0 L254,436.7 L260,433.4 L266,430.1 L272,426.7 L278,423.4 L284,420.0 L290,416.7 L296,413.3 L302,409.9 L308,406.5 L314,403.1 L320,399.7 L326,396.2 L332,392.8 L338,389.4 L344,385.9 L350,382.4 L356,378.9 L362,375.5 M110,524.6 L116,521.5 L122,518.5 L128,515.4 L134,512.4 L140,509.3 L146,506.2 L152,503.1 L158,500.0 L164,496.8 L170,493.7 L176,490.6 L182,487.4 L188,484.3 L194,481.1 L200,477.9 L206,474.7 L212,471.5 L218,468.3 L224,465.1 L230,461.8 L236,458.6 L242,455.3 L248,452.1 L254,448.8 L260,445.5 L266,442.2 L272,438.9 L278,435.6 L284,432.3 L290,428.9 L296,425.6 L302,422.2 L308,418.8 L314,415.5 L320,412.1 L326,408.7 L332,405.3 L338,401.8 L344,398.4 L350,395.0 L356,391.5 L362,388.1 M110,536.0 L116,533.0 L122,529.9 L128,526.9 L134,523.9 L140,520.8 L146,517.8 L152,514.7 L158,511.6 L164,508.5 L170,505.4 L176,502.3 L182,499.2 L188,496.0 L194,492.9 L200,489.7 L206,486.6 L212,483.4 L218,480.2 L224,477.0 L230,473.8 L236,470.6 L242,467.4 L248,464.1 L254,460.9 L260,457.6 L266,454.4 L272,451.1 L278,447.8 L284,444.5 L290,441.2 L296,437.9 L302,434.5 L308,431.2 L314,427.8 L320,424.5 L326,421.1 L332,417.7 L338,414.3 L344,410.9 L350,407.5 L356,404.1 L362,400.7 M110,547.4 L116,544.4 L122,541.4 L128,538.4 L134,535.4 L140,532.4 L146,529.3 L152,526.3 L158,523.2 L164,520.2 L170,517.1 L176,514.0 L182,510.9 L188,507.8 L194,504.7 L200,501.6 L206,498.4 L212,495.3 L218,492.1 L224,489.0 L230,485.8 L236,482.6 L242,479.4 L248,476.2 L254,473.0 L260,469.7 L266,466.5 L272,463.2 L278,460.0 L284,456.7 L290,453.4 L296,450.1 L302,446.8 L308,443.5 L314,440.2 L320,436.9 L326,433.5 L332,430.2 L338,426.8 L344,423.5 L350,420.1 L356,416.7 L362,413.3 M110,558.8 L116,555.8 L122,552.9 L128,549.9 L134,546.9 L140,543.9 L146,540.9 L152,537.9 L158,534.9 L164,531.8 L170,528.8 L176,525.7 L182,522.7 L188,519.6 L194,516.5 L200,513.4 L206,510.3 L212,507.2 L218,504.0 L224,500.9 L230,497.8 L236,494.6 L242,491.4 L248,488.2 L254,485.1 L260,481.9 L266,478.6 L272,475.4 L278,472.2 L284,469.0 L290,465.7 L296,462.4 L302,459.2 L308,455.9 L314,452.6 L320,449.3 L326,446.0 L332,442.6 L338,439.3 L344,436.0 L350,432.6 L356,429.2 L362,425.9 M110,570.2 L116,567.3 L122,564.3 L128,561.4 L134,558.4 L140,555.5 L146,552.5 L152,549.5 L158,546.5 L164,543.5 L170,540.5 L176,537.4 L182,534.4 L188,531.4 L194,528.3 L200,525.2 L206,522.2 L212,519.1 L218,516.0 L224,512.9 L230,509.7 L236,506.6 L242,503.5 L248,500.3 L254,497.1 L260,494.0 L266,490.8 L272,487.6 L278,484.4 L284,481.2 L290,478.0 L296,474.7 L302,471.5 L308,468.2 L314,465.0 L320,461.7 L326,458.4 L332,455.1 L338,451.8 L344,448.5 L350,445.2 L356,441.8 L362,438.5 M110,581.6 L116,578.7 L122,575.8 L128,572.9 L134,569.9 L140,567.0 L146,564.1 L152,561.1 L158,558.1 L164,555.2 L170,552.2 L176,549.2 L182,546.2 L188,543.1 L194,540.1 L200,537.1 L206,534.0 L212,531.0 L218,527.9 L224,524.8 L230,521.7 L236,518.6 L242,515.5 L248,512.4 L254,509.2 L260,506.1 L266,502.9 L272,499.8 L278,496.6 L284,493.4 L290,490.2 L296,487.0 L302,483.8 L308,480.6 L314,477.3 L320,474.1 L326,470.8 L332,467.6 L338,464.3 L344,461.0 L350,457.7 L356,454.4 L362,451.1 M110,593.0 L116,590.1 L122,587.3 L128,584.4 L134,581.5 L140,578.6 L146,575.6 L152,572.7 L158,569.8 L164,566.8 L170,563.9 L176,560.9 L182,557.9 L188,554.9 L194,551.9 L200,548.9 L206,545.9 L212,542.8 L218,539.8 L224,536.7 L230,533.7 L236,530.6 L242,527.5 L248,524.4 L254,521.3 L260,518.2 L266,515.1 L272,512.0 L278,508.8 L284,505.7 L290,502.5 L296,499.3 L302,496.1 L308,492.9 L314,489.7 L320,486.5 L326,483.3 L332,480.0 L338,476.8 L344,473.5 L350,470.3 L356,467.0 L362,463.7 M110,604.4 L116,601.6 L122,598.7 L128,595.9 L134,593.0 L140,590.1 L146,587.2 L152,584.3 L158,581.4 L164,578.5 L170,575.5 L176,572.6 L182,569.7 L188,566.7 L194,563.7 L200,560.7 L206,557.7 L212,554.7 L218,551.7 L224,548.7 L230,545.7 L236,542.6 L242,539.6 L248,536.5 L254,533.4 L260,530.3 L266,527.2 L272,524.1 L278,521.0 L284,517.9 L290,514.7 L296,511.6 L302,508.4 L308,505.3 L314,502.1 L320,498.9 L326,495.7 L332,492.5 L338,489.3 L344,486.0 L350,482.8 L356,479.6 L362,476.3 M110,615.8 L116,613.0 L122,610.2 L128,607.3 L134,604.5 L140,601.7 L146,598.8 L152,595.9 L158,593.0 L164,590.1 L170,587.2 L176,584.3 L182,581.4 L188,578.5 L194,575.5 L200,572.6 L206,569.6 L212,566.6 L218,563.6 L224,560.6 L230,557.6 L236,554.6 L242,551.6 L248,548.6 L254,545.5 L260,542.5 L266,539.4 L272,536.3 L278,533.2 L284,530.1 L290,527.0 L296,523.9 L302,520.8 L308,517.6 L314,514.5 L320,511.3 L326,508.1 L332,505.0 L338,501.8 L344,498.6 L350,495.4 L356,492.1 L362,488.9 M110,627.2 L116,624.4 L122,621.6 L128,618.8 L134,616.0 L140,613.2 L146,610.4 L152,607.5 L158,604.7 L164,601.8 L170,598.9 L176,596.0 L182,593.1 L188,590.2 L194,587.3 L200,584.4 L206,581.5 L212,578.5 L218,575.6 L224,572.6 L230,569.6 L236,566.6 L242,563.6 L248,560.6 L254,557.6 L260,554.6 L266,551.5 L272,548.5 L278,545.4 L284,542.4 L290,539.3 L296,536.2 L302,533.1 L308,530.0 L314,526.8 L320,523.7 L326,520.6 L332,517.4 L338,514.3 L344,511.1 L350,507.9 L356,504.7 L362,501.5 M110,638.6 L116,635.9 L122,633.1 L128,630.3 L134,627.5 L140,624.7 L146,621.9 L152,619.1 L158,616.3 L164,613.5 L170,610.6 L176,607.8 L182,604.9 L188,602.0 L194,599.1 L200,596.2 L206,593.3 L212,590.4 L218,587.5 L224,584.5 L230,581.6 L236,578.6 L242,575.7 L248,572.7 L254,569.7 L260,566.7 L266,563.7 L272,560.7 L278,557.6 L284,554.6 L290,551.5 L296,548.5 L302,545.4 L308,542.3 L314,539.2 L320,536.1 L326,533.0 L332,529.9 L338,526.7 L344,523.6 L350,520.4 L356,517.3 L362,514.1 M110,650.0 L116,647.3 L122,644.6 L128,641.8 L134,639.1 L140,636.3 L146,633.5 L152,630.7 L158,627.9 L164,625.1 L170,622.3 L176,619.5 L182,616.6 L188,613.8 L194,610.9 L200,608.1 L206,605.2 L212,602.3 L218,599.4 L224,596.5 L230,593.6 L236,590.6 L242,587.7 L248,584.7 L254,581.8 L260,578.8 L266,575.8 L272,572.8 L278,569.8 L284,566.8 L290,563.8 L296,560.8 L302,557.7 L308,554.7 L314,551.6 L320,548.5 L326,545.4 L332,542.3 L338,539.2 L344,536.1 L350,533.0 L356,529.9 L362,526.7 M110,661.4 L116,658.7 L122,656.0 L128,653.3 L134,650.6 L140,647.8 L146,645.1 L152,642.3 L158,639.6 L164,636.8 L170,634.0 L176,631.2 L182,628.4 L188,625.6 L194,622.7 L200,619.9 L206,617.0 L212,614.2 L218,611.3 L224,608.4 L230,605.5 L236,602.6 L242,599.7 L248,596.8 L254,593.9 L260,590.9 L266,588.0 L272,585.0 L278,582.0 L284,579.1 L290,576.1 L296,573.1 L302,570.0 L308,567.0 L314,564.0 L320,560.9 L326,557.9 L332,554.8 L338,551.7 L344,548.6 L350,545.5 L356,542.4 L362,539.3 M110,672.8 L116,670.2 L122,667.5 L128,664.8 L134,662.1 L140,659.4 L146,656.7 L152,653.9 L158,651.2 L164,648.5 L170,645.7 L176,642.9 L182,640.1 L188,637.3 L194,634.5 L200,631.7 L206,628.9 L212,626.1 L218,623.2 L224,620.4 L230,617.5 L236,614.6 L242,611.8 L248,608.9 L254,606.0 L260,603.0 L266,600.1 L272,597.2 L278,594.2 L284,591.3 L290,588.3 L296,585.3 L302,582.4 L308,579.4 L314,576.4 L320,573.3 L326,570.3 L332,567.3 L338,564.2 L344,561.2 L350,558.1 L356,555.0 L362,551.9 M110,684.2 L116,681.6 L122,678.9 L128,676.3 L134,673.6 L140,670.9 L146,668.2 L152,665.5 L158,662.8 L164,660.1 L170,657.4 L176,654.6 L182,651.9 L188,649.1 L194,646.4 L200,643.6 L206,640.8 L212,638.0 L218,635.2 L224,632.3 L230,629.5 L236,626.7 L242,623.8 L248,620.9 L254,618.1 L260,615.2 L266,612.3 L272,609.4 L278,606.4 L284,603.5 L290,600.6 L296,597.6 L302,594.7 L308,591.7 L314,588.7 L320,585.7 L326,582.7 L332,579.7 L338,576.7 L344,573.7 L350,570.6 L356,567.6 L362,564.5 M110,695.6 L116,693.0 L122,690.4 L128,687.8 L134,685.1 L140,682.5 L146,679.8 L152,677.2 L158,674.5 L164,671.8 L170,669.1 L176,666.4 L182,663.6 L188,660.9 L194,658.2 L200,655.4 L206,652.6 L212,649.9 L218,647.1 L224,644.3 L230,641.5 L236,638.7 L242,635.8 L248,633.0 L254,630.1 L260,627.3 L266,624.4 L272,621.5 L278,618.7 L284,615.8 L290,612.8 L296,609.9 L302,607.0 L308,604.1 L314,601.1 L320,598.1 L326,595.2 L332,592.2 L338,589.2 L344,586.2 L350,583.2 L356,580.2 L362,577.1 M110,707.0 L116,704.5 L122,701.9 L128,699.3 L134,696.7 L140,694.0 L146,691.4 L152,688.8 L158,686.1 L164,683.4 L170,680.8 L176,678.1 L182,675.4 L188,672.7 L194,670.0 L200,667.2 L206,664.5 L212,661.7 L218,659.0 L224,656.2 L230,653.4 L236,650.7 L242,647.9 L248,645.1 L254,642.2 L260,639.4 L266,636.6 L272,633.7 L278,630.9 L284,628.0 L290,625.1 L296,622.2 L302,619.3 L308,616.4 L314,613.5 L320,610.5 L326,607.6 L332,604.7 L338,601.7 L344,598.7 L350,595.7 L356,592.7 L362,589.7 M110,718.5 L116,715.9 L122,713.3 L128,710.8 L134,708.2 L140,705.6 L146,703.0 L152,700.4 L158,697.7 L164,695.1 L170,692.5 L176,689.8 L182,687.1 L188,684.5 L194,681.8 L200,679.1 L206,676.4 L212,673.6 L218,670.9 L224,668.2 L230,665.4 L236,662.7 L242,659.9 L248,657.1 L254,654.3 L260,651.5 L266,648.7 L272,645.9 L278,643.1 L284,640.2 L290,637.4 L296,634.5 L302,631.6 L308,628.7 L314,625.9 L320,623.0 L326,620.0 L332,617.1 L338,614.2 L344,611.2 L350,608.3 L356,605.3 L362,602.3 M110,729.9 L116,727.3 L122,724.8 L128,722.3 L134,719.7 L140,717.1 L146,714.6 L152,712.0 L158,709.4 L164,706.8 L170,704.1 L176,701.5 L182,698.9 L188,696.2 L194,693.6 L200,690.9 L206,688.2 L212,685.5 L218,682.8 L224,680.1 L230,677.4 L236,674.7 L242,671.9 L248,669.2 L254,666.4 L260,663.6 L266,660.9 L272,658.1 L278,655.3 L284,652.5 L290,649.6 L296,646.8 L302,644.0 L308,641.1 L314,638.2 L320,635.4 L326,632.5 L332,629.6 L338,626.7 L344,623.8 L350,620.8 L356,617.9 L362,614.9 M110,741.3 L116,738.8 L122,736.3 L128,733.7 L134,731.2 L140,728.7 L146,726.1 L152,723.6 L158,721.0 L164,718.4 L170,715.8 L176,713.2 L182,710.6 L188,708.0 L194,705.4 L200,702.7 L206,700.1 L212,697.4 L218,694.7 L224,692.1 L230,689.4 L236,686.7 L242,684.0 L248,681.2 L254,678.5 L260,675.8 L266,673.0 L272,670.2 L278,667.5 L284,664.7 L290,661.9 L296,659.1 L302,656.3 L308,653.4 L314,650.6 L320,647.8 L326,644.9 L332,642.0 L338,639.2 L344,636.3 L350,633.4 L356,630.5 L362,627.5 M110,752.7 L116,750.2 L122,747.7 L128,745.2 L134,742.7 L140,740.2 L146,737.7 L152,735.2 L158,732.6 L164,730.1 L170,727.5 L176,725.0 L182,722.4 L188,719.8 L194,717.2 L200,714.6 L206,711.9 L212,709.3 L218,706.7 L224,704.0 L230,701.4 L236,698.7 L242,696.0 L248,693.3 L254,690.6 L260,687.9 L266,685.2 L272,682.4 L278,679.7 L284,676.9 L290,674.2 L296,671.4 L302,668.6 L308,665.8 L314,663.0 L320,660.2 L326,657.3 L332,654.5 L338,651.7 L344,648.8 L350,645.9 L356,643.0 L362,640.2 M110,764.1 L116,761.6 L122,759.2 L128,756.7 L134,754.3 L140,751.8 L146,749.3 L152,746.8 L158,744.3 L164,741.7 L170,739.2 L176,736.7 L182,734.1 L188,731.6 L194,729.0 L200,726.4 L206,723.8 L212,721.2 L218,718.6 L224,716.0 L230,713.3 L236,710.7 L242,708.0 L248,705.4 L254,702.7 L260,700.0 L266,697.3 L272,694.6 L278,691.9 L284,689.2 L290,686.4 L296,683.7 L302,680.9 L308,678.1 L314,675.4 L320,672.6 L326,669.8 L332,667.0 L338,664.1 L344,661.3 L350,658.5 L356,655.6 L362,652.8 M110,775.5 L116,773.1 L122,770.6 L128,768.2 L134,765.8 L140,763.3 L146,760.9 L152,758.4 L158,755.9 L164,753.4 L170,750.9 L176,748.4 L182,745.9 L188,743.3 L194,740.8 L200,738.2 L206,735.7 L212,733.1 L218,730.5 L224,727.9 L230,725.3 L236,722.7 L242,720.1 L248,717.4 L254,714.8 L260,712.1 L266,709.5 L272,706.8 L278,704.1 L284,701.4 L290,698.7 L296,696.0 L302,693.2 L308,690.5 L314,687.7 L320,685.0 L326,682.2 L332,679.4 L338,676.6 L344,673.8 L350,671.0 L356,668.2 L362,665.4 M110,786.9 L116,784.5 L122,782.1 L128,779.7 L134,777.3 L140,774.9 L146,772.4 L152,770.0 L158,767.5 L164,765.1 L170,762.6 L176,760.1 L182,757.6 L188,755.1 L194,752.6 L200,750.1 L206,747.5 L212,745.0 L218,742.4 L224,739.9 L230,737.3 L236,734.7 L242,732.1 L248,729.5 L254,726.9 L260,724.2 L266,721.6 L272,718.9 L278,716.3 L284,713.6 L290,710.9 L296,708.2 L302,705.5 L308,702.8 L314,700.1 L320,697.4 L326,694.6 L332,691.9 L338,689.1 L344,686.4 L350,683.6 L356,680.8 L362,678.0 M110,798.3 L116,795.9 L122,793.6 L128,791.2 L134,788.8 L140,786.4 L146,784.0 L152,781.6 L158,779.2 L164,776.7 L170,774.3 L176,771.8 L182,769.4 L188,766.9 L194,764.4 L200,761.9 L206,759.4 L212,756.9 L218,754.3 L224,751.8 L230,749.3 L236,746.7 L242,744.1 L248,741.5 L254,739.0 L260,736.4 L266,733.7 L272,731.1 L278,728.5 L284,725.9 L290,723.2 L296,720.5 L302,717.9 L308,715.2 L314,712.5 L320,709.8 L326,707.1 L332,704.3 L338,701.6 L344,698.9 L350,696.1 L356,693.3 L362,690.6 M110,809.7 L116,807.4 L122,805.0 L128,802.7 L134,800.3 L140,798.0 L146,795.6 L152,793.2 L158,790.8 L164,788.4 L170,786.0 L176,783.5 L182,781.1 L188,778.7 L194,776.2 L200,773.7 L206,771.3 L212,768.8 L218,766.3 L224,763.8 L230,761.2 L236,758.7 L242,756.2 L248,753.6 L254,751.0 L260,748.5 L266,745.9 L272,743.3 L278,740.7 L284,738.1 L290,735.5 L296,732.8 L302,730.2 L308,727.5 L314,724.9 L320,722.2 L326,719.5 L332,716.8 L338,714.1 L344,711.4 L350,708.7 L356,705.9 L362,703.2 M110,821.1 L116,818.8 L122,816.5 L128,814.2 L134,811.8 L140,809.5 L146,807.2 L152,804.8 L158,802.4 L164,800.1 L170,797.7 L176,795.3 L182,792.9 L188,790.4 L194,788.0 L200,785.6 L206,783.1 L212,780.7 L218,778.2 L224,775.7 L230,773.2 L236,770.7 L242,768.2 L248,765.7 L254,763.1 L260,760.6 L266,758.0 L272,755.5 L278,752.9 L284,750.3 L290,747.7 L296,745.1 L302,742.5 L308,739.9 L314,737.2 L320,734.6 L326,731.9 L332,729.3 L338,726.6 L344,723.9 L350,721.2 L356,718.5 L362,715.8 M110,832.5 L116,830.2 L122,828.0 L128,825.7 L134,823.4 L140,821.1 L146,818.7 L152,816.4 L158,814.1 L164,811.7 L170,809.4 L176,807.0 L182,804.6 L188,802.2 L194,799.8 L200,797.4 L206,795.0 L212,792.5 L218,790.1 L224,787.6 L230,785.2 L236,782.7 L242,780.2 L248,777.7 L254,775.2 L260,772.7 L266,770.2 L272,767.7 L278,765.1 L284,762.6 L290,760.0 L296,757.4 L302,754.8 L308,752.2 L314,749.6 L320,747.0 L326,744.4 L332,741.7 L338,739.1 L344,736.4 L350,733.8 L356,731.1 L362,728.4 M110,843.9 L116,841.7 L122,839.4 L128,837.2 L134,834.9 L140,832.6 L146,830.3 L152,828.0 L158,825.7 L164,823.4 L170,821.0 L176,818.7 L182,816.4 L188,814.0 L194,811.6 L200,809.2 L206,806.8 L212,804.4 L218,802.0 L224,799.6 L230,797.2 L236,794.7 L242,792.3 L248,789.8 L254,787.3 L260,784.8 L266,782.3 L272,779.8 L278,777.3 L284,774.8 L290,772.2 L296,769.7 L302,767.1 L308,764.6 L314,762.0 L320,759.4 L326,756.8 L332,754.2 L338,751.6 L344,748.9 L350,746.3 L356,743.7 L362,741.0 M110,855.3 L116,853.1 L122,850.9 L128,848.6 L134,846.4 L140,844.2 L146,841.9 L152,839.6 L158,837.3 L164,835.0 L170,832.7 L176,830.4 L182,828.1 L188,825.8 L194,823.4 L200,821.1 L206,818.7 L212,816.3 L218,813.9 L224,811.5 L230,809.1 L236,806.7 L242,804.3 L248,801.9 L254,799.4 L260,797.0 L266,794.5 L272,792.0 L278,789.5 L284,787.0 L290,784.5 L296,782.0 L302,779.5 L308,776.9 L314,774.4 L320,771.8 L326,769.2 L332,766.7 L338,764.1 L344,761.5 L350,758.9 L356,756.2 L362,753.6 M110,866.7 L116,864.5 L122,862.3 L128,860.1 L134,857.9 L140,855.7 L146,853.5 L152,851.2 L158,849.0 L164,846.7 L170,844.4 L176,842.1 L182,839.8 L188,837.5 L194,835.2 L200,832.9 L206,830.6 L212,828.2 L218,825.9 L224,823.5 L230,821.1 L236,818.7 L242,816.3 L248,813.9 L254,811.5 L260,809.1 L266,806.6 L272,804.2 L278,801.7 L284,799.3 L290,796.8 L296,794.3 L302,791.8 L308,789.3 L314,786.7 L320,784.2 L326,781.7 L332,779.1 L338,776.6 L344,774.0 L350,771.4 L356,768.8 L362,766.2 M110,878.1 L116,876.0 L122,873.8 L128,871.6 L134,869.4 L140,867.2 L146,865.0 L152,862.8 L158,860.6 L164,858.4 L170,856.1 L176,853.9 L182,851.6 L188,849.3 L194,847.0 L200,844.7 L206,842.4 L212,840.1 L218,837.8 L224,835.4 L230,833.1 L236,830.7 L242,828.4 L248,826.0 L254,823.6 L260,821.2 L266,818.8 L272,816.4 L278,813.9 L284,811.5 L290,809.0 L296,806.6 L302,804.1 L308,801.6 L314,799.1 L320,796.6 L326,794.1 L332,791.6 L338,789.0 L344,786.5 L350,783.9 L356,781.4 L362,778.8 M110,889.5 L116,887.4 L122,885.3 L128,883.1 L134,881.0 L140,878.8 L146,876.6 L152,874.4 L158,872.2 L164,870.0 L170,867.8 L176,865.6 L182,863.3 L188,861.1 L194,858.8 L200,856.6 L206,854.3 L212,852.0 L218,849.7 L224,847.4 L230,845.1 L236,842.7 L242,840.4 L248,838.0 L254,835.7 L260,833.3 L266,830.9 L272,828.5 L278,826.1 L284,823.7 L290,821.3 L296,818.9 L302,816.4 L308,814.0 L314,811.5 L320,809.0 L326,806.5 L332,804.0 L338,801.5 L344,799.0 L350,796.5 L356,794.0 L362,791.4 M110,900.9 L116,898.8 L122,896.7 L128,894.6 L134,892.5 L140,890.3 L146,888.2 L152,886.0 L158,883.9 L164,881.7 L170,879.5 L176,877.3 L182,875.1 L188,872.9 L194,870.6 L200,868.4 L206,866.1 L212,863.9 L218,861.6 L224,859.3 L230,857.0 L236,854.7 L242,852.4 L248,850.1 L254,847.8 L260,845.4 L266,843.1 L272,840.7 L278,838.3 L284,836.0 L290,833.6 L296,831.2 L302,828.7 L308,826.3 L314,823.9 L320,821.4 L326,819.0 L332,816.5 L338,814.0 L344,811.5 L350,809.0 L356,806.5 L362,804.0 M110,912.3 L116,910.3 L122,908.2 L128,906.1 L134,904.0 L140,901.9 L146,899.8 L152,897.6 L158,895.5 L164,893.4 L170,891.2 L176,889.0 L182,886.8 L188,884.6 L194,882.4 L200,880.2 L206,878.0 L212,875.8 L218,873.5 L224,871.3 L230,869.0 L236,866.7 L242,864.5 L248,862.2 L254,859.9 L260,857.5 L266,855.2 L272,852.9 L278,850.5 L284,848.2 L290,845.8 L296,843.4 L302,841.1 L308,838.7 L314,836.3 L320,833.8 L326,831.4 L332,829.0 L338,826.5 L344,824.1 L350,821.6 L356,819.1 L362,816.6 M110,923.7 L116,921.7 L122,919.6 L128,917.6 L134,915.5 L140,913.4 L146,911.3 L152,909.2 L158,907.1 L164,905.0 L170,902.9 L176,900.7 L182,898.6 L188,896.4 L194,894.3 L200,892.1 L206,889.9 L212,887.7 L218,885.5 L224,883.2 L230,881.0 L236,878.8 L242,876.5 L248,874.2 L254,872.0 L260,869.7 L266,867.4 L272,865.1 L278,862.7 L284,860.4 L290,858.1 L296,855.7 L302,853.4 L308,851.0 L314,848.6 L320,846.2 L326,843.8 L332,841.4 L338,839.0 L344,836.6 L350,834.1 L356,831.7 L362,829.2 M110,935.1 L116,933.1 L122,931.1 L128,929.1 L134,927.0 L140,925.0 L146,922.9 L152,920.9 L158,918.8 L164,916.7 L170,914.6 L176,912.5 L182,910.3 L188,908.2 L194,906.1 L200,903.9 L206,901.7 L212,899.6 L218,897.4 L224,895.2 L230,893.0 L236,890.8 L242,888.5 L248,886.3 L254,884.0 L260,881.8 L266,879.5 L272,877.2 L278,875.0 L284,872.7 L290,870.3 L296,868.0 L302,865.7 L308,863.4 L314,861.0 L320,858.6 L326,856.3 L332,853.9 L338,851.5 L344,849.1 L350,846.7 L356,844.3 L362,841.8 M110,946.5 L116,944.6 L122,942.6 L128,940.6 L134,938.6 L140,936.5 L146,934.5 L152,932.5 L158,930.4 L164,928.3 L170,926.3 L176,924.2 L182,922.1 L188,920.0 L194,917.9 L200,915.7 L206,913.6 L212,911.4 L218,909.3 L224,907.1 L230,904.9 L236,902.8 L242,900.6 L248,898.4 L254,896.1 L260,893.9 L266,891.7 L272,889.4 L278,887.2 L284,884.9 L290,882.6 L296,880.3 L302,878.0 L308,875.7 L314,873.4 L320,871.0 L326,868.7 L332,866.4 L338,864.0 L344,861.6 L350,859.2 L356,856.8 L362,854.4 M110,958.0 L116,956.0 L122,954.0 L128,952.1 L134,950.1 L140,948.1 L146,946.1 L152,944.1 L158,942.0 L164,940.0 L170,938.0 L176,935.9 L182,933.8 L188,931.8 L194,929.7 L200,927.6 L206,925.5 L212,923.3 L218,921.2 L224,919.1 L230,916.9 L236,914.8 L242,912.6 L248,910.4 L254,908.2 L260,906.0 L266,903.8 L272,901.6 L278,899.4 L284,897.1 L290,894.9 L296,892.6 L302,890.3 L308,888.0 L314,885.8 L320,883.5 L326,881.1 L332,878.8 L338,876.5 L344,874.1 L350,871.8 L356,869.4 L362,867.0 M110,969.4 L116,967.4 L122,965.5 L128,963.6 L134,961.6 L140,959.6 L146,957.7 L152,955.7 L158,953.7 L164,951.7 L170,949.6 L176,947.6 L182,945.6 L188,943.5 L194,941.5 L200,939.4 L206,937.3 L212,935.2 L218,933.1 L224,931.0 L230,928.9 L236,926.8 L242,924.6 L248,922.5 L254,920.3 L260,918.1 L266,916.0 L272,913.8 L278,911.6 L284,909.4 L290,907.1 L296,904.9 L302,902.7 L308,900.4 L314,898.1 L320,895.9 L326,893.6 L332,891.3 L338,889.0 L344,886.7 L350,884.3 L356,882.0 L362,879.6 M110,980.8 L116,978.9 L122,977.0 L128,975.0 L134,973.1 L140,971.2 L146,969.2 L152,967.3 L158,965.3 L164,963.3 L170,961.3 L176,959.3 L182,957.3 L188,955.3 L194,953.3 L200,951.2 L206,949.2 L212,947.1 L218,945.0 L224,943.0 L230,940.9 L236,938.8 L242,936.7 L248,934.5 L254,932.4 L260,930.3 L266,928.1 L272,925.9 L278,923.8 L284,921.6 L290,919.4 L296,917.2 L302,915.0 L308,912.7 L314,910.5 L320,908.3 L326,906.0 L332,903.7 L338,901.5 L344,899.2 L350,896.9 L356,894.6 L362,892.2 M110,992.2 L116,990.3 L122,988.4 L128,986.5 L134,984.6 L140,982.7 L146,980.8 L152,978.9 L158,976.9 L164,975.0 L170,973.0 L176,971.1 L182,969.1 L188,967.1 L194,965.1 L200,963.1 L206,961.0 L212,959.0 L218,957.0 L224,954.9 L230,952.9 L236,950.8 L242,948.7 L248,946.6 L254,944.5 L260,942.4 L266,940.3 L272,938.1 L278,936.0 L284,933.8 L290,931.7 L296,929.5 L302,927.3 L308,925.1 L314,922.9 L320,920.7 L326,918.4 L332,916.2 L338,914.0 L344,911.7 L350,909.4 L356,907.1 L362,904.9 M110,1003.6 L116,1001.7 L122,999.9 L128,998.0 L134,996.2 L140,994.3 L146,992.4 L152,990.5 L158,988.6 L164,986.6 L170,984.7 L176,982.8 L182,980.8 L188,978.9 L194,976.9 L200,974.9 L206,972.9 L212,970.9 L218,968.9 L224,966.9 L230,964.8 L236,962.8 L242,960.7 L248,958.7 L254,956.6 L260,954.5 L266,952.4 L272,950.3 L278,948.2 L284,946.1 L290,943.9 L296,941.8 L302,939.6 L308,937.4 L314,935.3 L320,933.1 L326,930.9 L332,928.7 L338,926.4 L344,924.2 L350,922.0 L356,919.7 L362,917.5" stroke="#fff" stroke-width="1.1" fill="none" stroke-linejoin="round" stroke-dasharray="3,1.3"/>
</g>
<!-- rim lines -->
<path d="M134,424 L330,522 L364.3,529" fill="none" stroke="#000" stroke-width="2.2"/>
<path d="M340,510 L343,518 L368.6,522.9" fill="none" stroke="#000" stroke-width="1.2"/>
<path d="M131.2,416 L128,440 L124.7,500" fill="none" stroke="#000" stroke-width="2.8"/>
<path d="M134.4,418 L200,451.4" fill="none" stroke="#000" stroke-width="2"/>
<path d="M134.4,418 C136,426 135,432 135.4,438.6 L152.4,432.1" fill="none" stroke="#000" stroke-width="1.4"/>
<!-- tab on rim -->
<path d="M264.3,470.5 L282.5,478 L280.4,486.5 L265.8,481 Z" fill="#fff" stroke="#000" stroke-width="1.5" stroke-linejoin="round"/>
<path d="M264.3,470.5 L282.5,478" fill="none" stroke="#000" stroke-width="3.2"/>
<path d="M267.5,479.8 L280.4,484.5" fill="none" stroke="#000" stroke-width="1.2"/>
<!-- platform -->
<path d="M250,483 L270.7,497.9 L245,530 L277,551 L300,547 L333,519 M270.7,497.9 L272,515 L300,530 L333,519 M272,515 L245,530 M300,530 L300,547" fill="none" stroke="#000" stroke-width="1.6" stroke-linejoin="round"/>
<ellipse cx="276" cy="534.3" rx="7.5" ry="4.5" transform="rotate(15 276 534.3)" fill="#fff" stroke="#000" stroke-width="1.6"/>
<path d="M278,532 L287,512" stroke="#000" stroke-width="1"/>
<rect x="328.6" y="534" width="6.4" height="6.7" fill="none" stroke="#000" stroke-width="2.2"/>
<rect x="341.4" y="532" width="6.5" height="6.6" fill="none" stroke="#000" stroke-width="2.2"/>
<!-- bracket with hole -->
<path d="M277,551 L309.3,551 L311,571 L340.6,580.6 M309.3,551 L341,545 L355,548 L363.5,551 M341,545 C340,556 344,566 347.5,570 L340.6,580.6 M355,548 L353.8,553.8" fill="none" stroke="#000" stroke-width="1.6"/>
<ellipse cx="342.5" cy="561" rx="3.2" ry="4.5" transform="rotate(-20 342.5 561)" fill="#fff" stroke="#000" stroke-width="1.6"/>
<!-- right band inner -->
<path d="M353,553 C351,600 346,650 341.7,620 " fill="none" stroke="#000" stroke-width="0"/>
<path d="M353.8,553.8 C352,600 346,650 342.5,696 L340.4,702.3" fill="none" stroke="#000" stroke-width="2"/>
<path d="M340.6,580.6 L337,643 L285,667 M337,643 L339.5,702" fill="none" stroke="#000" stroke-width="1.6"/>
<path d="M304.4,674 L336.6,645.7" fill="none" stroke="#000" stroke-width="1.3"/>
<!-- shroud curves -->
<path d="M306.5,562 C298,600 292,640 287.1,667.2" fill="none" stroke="#000" stroke-width="1.6"/>
<path d="M248.4,551 C244,590 241,630 240,669" fill="none" stroke="#000" stroke-width="1.6"/>
<path d="M182,470 C168,500 160,520 158,545" fill="none" stroke="#000" stroke-width="1.6"/>
<!-- disc -->
<ellipse cx="192.5" cy="585" rx="66" ry="45" transform="rotate(61.2 192.5 585)" fill="#fff" stroke="#000" stroke-width="1.6"/>
<path d="M223.7,634.6 L222.0,647.2 M220.1,636.3 L217.6,648.6 M216.3,637.4 L213.0,649.3 M212.4,637.9 L208.2,649.4 M208.2,638.0 L203.3,648.8 M203.9,637.5 L198.2,647.7 M199.6,636.5 L193.1,646.0 M195.1,634.9 L188.0,643.6 M190.7,632.9 L182.9,640.7 M186.4,630.3 L177.9,637.3 M182.1,627.3 L173.1,633.4 M177.9,623.9 L168.4,629.0 M173.9,620.1 L164.0,624.2 M170.1,615.9 L159.8,619.0 M166.6,611.4 L156.0,613.4 M163.3,606.6 L152.5,607.6 M160.3,601.6 L149.4,601.6 M157.7,596.4 L146.7,595.4 M155.4,591.0 L144.5,589.1 M153.5,585.6 L142.7,582.8 M152.0,580.2 L141.4,576.5 M150.9,574.7 L140.6,570.3 M150.2,569.4 L140.3,564.2 M150.0,564.2 L140.5,558.4 M150.2,559.1 L141.2,552.7 M150.8,554.3 L142.4,547.4 M151.9,549.7 L144.0,542.5 M153.4,545.5 L146.2,537.9 M155.2,541.6 L148.8,533.9 M157.5,538.1 L151.8,530.3 M160.1,535.1 L155.2,527.2 M163.1,532.5 L158.9,524.7 M166.3,530.4 L163.0,522.8 M169.9,528.7 L167.4,521.4 M173.7,527.6 L172.0,520.7 M177.6,527.1 L176.8,520.6 M181.8,527.0 L181.7,521.2 M186.1,527.5 L186.8,522.3 M190.4,528.5 L191.9,524.0 M194.9,530.1 L197.0,526.4 M199.3,532.1 L202.1,529.3 M203.6,534.7 L207.1,532.7 M207.9,537.7 L211.9,536.6 M212.1,541.1 L216.6,541.0 M216.1,544.9 L221.0,545.8 M219.9,549.1 L225.2,551.0 M223.4,553.6 L229.0,556.6 M226.7,558.4 L232.5,562.4 M229.7,563.4 L235.6,568.4 M232.3,568.6 L238.3,574.6 M234.6,574.0 L240.5,580.9 M236.5,579.4 L242.3,587.2 M238.0,584.8 L243.6,593.5 M239.1,590.3 L244.4,599.7 M239.8,595.6 L244.7,605.8 M240.0,600.8 L244.5,611.6 M239.8,605.9 L243.8,617.3 M239.2,610.7 L242.6,622.6 M238.1,615.3 L241.0,627.5 M236.6,619.5 L238.8,632.1 M234.8,623.4 L236.2,636.1 M232.5,626.9 L233.2,639.7 M229.9,629.9 L229.8,642.8 M226.9,632.5 L226.1,645.3" fill="none" stroke="#000" stroke-width="2"/>
<ellipse cx="195" cy="582.5" rx="59.5" ry="39.6" transform="rotate(61.2 195 582.5)" fill="#fff" stroke="#000" stroke-width="3"/>
<ellipse cx="195" cy="582.5" rx="55.8" ry="36.2" transform="rotate(61.2 195 582.5)" fill="none" stroke="#000" stroke-width="1.3"/>
<ellipse cx="168" cy="570" rx="2.4" ry="2.9" fill="#000"/>
<ellipse cx="194" cy="584" rx="2.6" ry="3.4" transform="rotate(20 194 584)" fill="#fff" stroke="#000" stroke-width="1.5"/>
<ellipse cx="222" cy="597" rx="2.4" ry="2.9" fill="#000"/>
</g>

<!-- rope -->
<path d="M359,39.5 C376,26 392,17 406,17 C430,17 447,32 449,58" fill="none" stroke="#000" stroke-width="10"/>
<path d="M359,39.5 C376,26 392,17 406,17 C430,17 447,32 449,58" fill="none" stroke="#fff" stroke-width="6.4"/>
<!-- knot -->
<path d="M407,57 C405,47 412,42 420,43 C430,44 437,49 443,52 C447,60 444,69 437,72.5 C429,76 417,75 411,68 C408,64 407,61 407,57 Z" fill="none" stroke="#000" stroke-width="10"/>
<path d="M407,57 C405,47 412,42 420,43 C430,44 437,49 443,52 C447,60 444,69 437,72.5 C429,76 417,75 411,68 C408,64 407,61 407,57 Z" fill="none" stroke="#fff" stroke-width="6.4"/>
<path d="M449,52 L452,58" fill="none" stroke="#fff" stroke-width="6.4"/>
<path d="M414,58.5 C428,55 446,50 458,49 C464,48.5 466,52 465.5,56 C465,60 461,62 455,62 C440,62.5 425,61 414,59" fill="none" stroke="#000" stroke-width="10"/>
<path d="M414,58.5 C428,55 446,50 458,49 C464,48.5 466,52 465.5,56 C465,60 461,62 455,62 C440,62.5 425,61 414,59" fill="none" stroke="#fff" stroke-width="6.4"/>
<path d="M393.5,49 L403,49 L403,58.5 L393.5,58.5 Z" fill="#fff" stroke="#000" stroke-width="1.8"/>
<!-- spring 11 -->
<path d="M328.8,66.8 L339.9,71.6 C340.5,72 340.6,73 340,74 L315,114 C314.3,115.1 313,115.2 312,114.6 L304,108.2 C303.3,107.6 303.2,106.6 303.7,105.7 L327,67.3 C327.5,66.6 328.2,66.5 328.8,66.8 Z" fill="#000"/>
<!-- nut (11 top) -->
<ellipse cx="341.00" cy="61.20" rx="9.2" ry="6.4" transform="rotate(28 341.00 61.20)" fill="#fff" stroke="#000" stroke-width="1.8"/>
<path d="M353.49,57.58 L349.09,65.58 L332.91,56.82 L337.31,48.82 Z" fill="#fff"/>
<path d="M353.49,57.58 L349.09,65.58 M337.31,48.82 L332.91,56.82" fill="none" stroke="#000" stroke-width="1.8" stroke-linecap="round"/>
<ellipse cx="345.4" cy="53.2" rx="9.2" ry="6.4" transform="rotate(28 345.4 53.2)" fill="#fff" stroke="#000" stroke-width="1.8"/>
<ellipse cx="345.90" cy="53.20" rx="4.2" ry="2.6" transform="rotate(28 345.90 53.20)" fill="#fff" stroke="#000" stroke-width="1.8"/>
<!-- washer 9 -->
<ellipse cx="585.7" cy="90.1" rx="15" ry="13.2" transform="rotate(60 585.7 90.1)" fill="#fff" stroke="#000" stroke-width="2.2"/>
<ellipse cx="585.5" cy="90.5" rx="4.8" ry="3.6" transform="rotate(40 585.5 90.5)" fill="#fff" stroke="#000" stroke-width="2.6"/>
<path d="M586,90 L599,75" stroke="#000" stroke-width="0.9"/>
</g>
<!-- nut 12 -->
<ellipse cx="296.50" cy="128.60" rx="9.2" ry="6.4" transform="rotate(28 296.50 128.60)" fill="#fff" stroke="#000" stroke-width="1.8"/>
<path d="M308.99,124.98 L304.59,132.98 L288.41,124.22 L292.81,116.22 Z" fill="#fff"/>
<path d="M308.99,124.98 L304.59,132.98 M292.81,116.22 L288.41,124.22" fill="none" stroke="#000" stroke-width="1.8" stroke-linecap="round"/>
<ellipse cx="300.9" cy="120.6" rx="9.2" ry="6.4" transform="rotate(28 300.9 120.6)" fill="#fff" stroke="#000" stroke-width="1.8"/>
<ellipse cx="301.40" cy="120.60" rx="4.2" ry="2.6" transform="rotate(28 301.40 120.60)" fill="#fff" stroke="#000" stroke-width="1.8"/>
<!-- washer 9 -->
<ellipse cx="585.7" cy="90.1" rx="15" ry="13.2" transform="rotate(60 585.7 90.1)" fill="#fff" stroke="#000" stroke-width="2.2"/>
<ellipse cx="585.5" cy="90.5" rx="4.8" ry="3.6" transform="rotate(40 585.5 90.5)" fill="#fff" stroke="#000" stroke-width="2.6"/>
<path d="M586,90 L599,75" stroke="#000" stroke-width="0.9"/>
</g>
<!-- handle 13 -->
<path d="M235.3,121.2 L336,177.5 C338,178.6 338.8,180 338.6,182.5 L337.5,200 C337.2,204 334.5,205.5 331.5,204.5 L279,177.2 C277.5,176.6 276.4,177 276,178.5 L271.5,194 C270.5,198 271,202 270.5,206 C270,214 269.5,219 267,221.4 C264,226 260,227.9 255,227.9 L244.7,227.9 C240,227.5 237,225.5 235.4,223.2 C232,219 230.5,216 230.8,212 L232.6,201 C234,197 236.5,195 239.1,193.6 C243,191 248,190 250.3,187.9 L249.4,165.7 C246,158 230,151 224.4,146.1 C222,142 221.5,138 222.3,135.3 L227.1,125.8 C229,122 232,120.5 235.3,121.2 Z" fill="#fff" stroke="#000" stroke-width="1.9" stroke-linejoin="round"/>
<g transform="translate(0,1.5)">
<path d="M240.2,126.3 L252.9,130.4 L250.2,133.9 L238,129.9 Z M257,133.1 L292.3,151.6 L288.2,155.6 L254.3,138 Z M295,152.9 L312.6,161.9 L309.9,167.3 L292.3,158.4 Z M318.1,169.2 L333,176 L330.3,181.4 L315.4,174.6 Z" fill="#fff" stroke="#000" stroke-width="1.6" stroke-linejoin="round"/>
<path d="M240.2,126.3 L252.9,130.4 M257,133.1 L292.3,151.6 M295,152.9 L312.6,161.9 M318.1,169.2 L333,176" fill="none" stroke="#000" stroke-width="2.6"/>
</g>
<!-- dashed line handle to rod -->
<path d="M245,229 L224,286" stroke="#000" stroke-width="1.1" stroke-dasharray="12,4,3,4"/>
<!-- rod 14 -->
<path d="M222.5,288 L186,399" stroke="#000" stroke-width="6" stroke-linecap="round"/>
<path d="M221.5,292 L186.5,397" stroke="#fff" stroke-width="2.8" stroke-linecap="round"/>
<circle cx="222.5" cy="288" r="2.5" fill="#000"/>
<!-- guide line rod->housing -->
<path d="M185,401 L303,468 L294,498" fill="none" stroke="#000" stroke-width="1.1"/>
<path d="M294,498 L278,534" fill="none" stroke="#000" stroke-width="1.1" stroke-dasharray="10,4"/>


<!-- arrow to C -->
<path d="M621,52.5 L655.5,15 M638.5,24 L655.5,15 L649,33.5" fill="none" stroke="#111" stroke-width="1.1"/>
<!-- bolt 10 -->
<g transform="translate(616,58) rotate(-55)">
<rect x="-24" y="-3.2" width="24" height="6.4" fill="#fff" stroke="#000" stroke-width="1.6"/>
<line x1="-22" y1="0" x2="-2" y2="0" stroke="#000" stroke-width="0.8"/>
<ellipse cx="-24" cy="0" rx="1.8" ry="3.2" fill="#fff" stroke="#000" stroke-width="1.4"/>
<ellipse cx="0" cy="0" rx="3" ry="7.5" fill="#fff" stroke="#000" stroke-width="2.6"/>
<ellipse cx="2.5" cy="0" rx="2" ry="6" fill="none" stroke="#000" stroke-width="1.6"/>
</g>
<!-- washer 9 -->
<ellipse cx="585.7" cy="90.1" rx="15" ry="13.2" transform="rotate(60 585.7 90.1)" fill="#fff" stroke="#000" stroke-width="2.2"/>
<ellipse cx="585.5" cy="90.5" rx="4.8" ry="3.6" transform="rotate(40 585.5 90.5)" fill="#fff" stroke="#000" stroke-width="2.6"/>
<path d="M586,90 L599,75" stroke="#000" stroke-width="0.9"/>

<!-- part 8 -->
<g id="p8">
<ellipse cx="542" cy="134.6" rx="34.7" ry="31.1" transform="rotate(53 542 134.6)" fill="#fff" stroke="#000" stroke-width="1.9"/>
<ellipse cx="539.15" cy="137.45" rx="34.7" ry="31.1" transform="rotate(53 539.15 137.45)" fill="#fff" stroke="#000" stroke-width="1.9"/>
<ellipse cx="536.3" cy="144" rx="19.6" ry="17.8" transform="rotate(40 536.3 144)" fill="#fff" stroke="#000" stroke-width="2.6"/>
<ellipse cx="536.3" cy="144.5" rx="16.6" ry="14.8" transform="rotate(40 536.3 144.5)" fill="none" stroke="#000" stroke-width="1.3"/>
<ellipse cx="536.8" cy="144.8" rx="13.6" ry="12" transform="rotate(40 536.8 144.8)" fill="none" stroke="#000" stroke-width="1.3"/>
<path d="M532.5,131.5 C526,136 525.5,146 531,150.5 C536,154 543,153 548.5,149.5" fill="none" stroke="#000" stroke-width="3.2"/>
<path d="M537,133 C540,136 543,138.5 548,139" fill="none" stroke="#000" stroke-width="2"/>
<path d="M518.6,121.1 L523.7,122 L525.4,116 L528.4,121.1 L531.4,115.1 L534.9,118.6 L539.1,118.1 L543.4,120.3 L542.6,123.7 L546,125.4 L550.3,125.4 L549.4,128.9 L554.6,135.7 L559.7,141.7" fill="none" stroke="#000" stroke-width="1.7" stroke-linejoin="round"/>
<path d="M554,139 L556,147" fill="none" stroke="#000" stroke-width="1.4"/>
</g>
<!-- part 7 -->
<g id="p7">
<path d="M451.4,187 C455,178 462,171 468.6,169.3 C475,167 482,166.5 487,167 C497,168 508,174 515.7,179.3 C519,177 524,178 525,182.9 C526,186 523,190 519.3,191.4 L521.4,193.6 C525,200 526,206 525,212 C524.5,220 523,226 521.4,229.3 C518,234 514,237 510,239.3 L474,220 Z" fill="#fff" stroke="#000" stroke-width="1.9" stroke-linejoin="round"/>
<path d="M503,196 L519.3,191.4" fill="none" stroke="#000" stroke-width="1.7"/>
<circle cx="504.5" cy="200" r="3.3" fill="#fff" stroke="#000" stroke-width="1.7"/>
<ellipse cx="474.3" cy="220" rx="40.3" ry="29.9" transform="rotate(39.6 474.3 220)" fill="#000"/>
<ellipse cx="474.3" cy="220" rx="37.6" ry="27.3" transform="rotate(39.6 474.3 220)" fill="none" stroke="#fff" stroke-width="0.9"/>
<path d="M460,220 L469,209 L476,208 C480,208 484,211 487,216 C490,221 490,229 487,233 C483,236.5 474,236 468,233 C463,231 460,226 460,220 Z" fill="#fff"/>
<path d="M463,215.5 L469.5,208.5 M478,210 C480,212 482,214 485,215" fill="none" stroke="#fff" stroke-width="1.1"/>
<path d="M466,218 L471.5,212 L477,212 L481,217" fill="none" stroke="#000" stroke-width="1.8"/>
<path d="M467,230 L474,221" stroke="#000" stroke-width="1.2"/>
</g>
<!-- part 6 -->
<g id="p6">
<ellipse cx="406.4" cy="297.4" rx="73" ry="63" transform="rotate(42 406.4 297.4)" fill="#fff" stroke="#000" stroke-width="1.8"/>
<ellipse cx="402.4" cy="301.6" rx="73" ry="63" transform="rotate(42 402.4 301.6)" fill="#fff" stroke="#000" stroke-width="1.2"/>
<ellipse cx="398.4" cy="305.9" rx="73" ry="63" transform="rotate(42 398.4 305.9)" fill="#fff" stroke="#000" stroke-width="2.4"/>
<path d="M400,230 L403,240 M410.5,230.5 L411,241 M443,245 L441,255 M452,250 L447,260" stroke="#000" stroke-width="1.4"/>
<path d="M366,293 C361,294 359,300 362,305 C364,309 370,309 374,307" fill="#fff" stroke="#000" stroke-width="1.9"/>
<ellipse cx="396.6" cy="313" rx="26" ry="22.5" transform="rotate(35 396.6 313)" fill="#fff" stroke="#000" stroke-width="2"/>
<ellipse cx="396.3" cy="313.6" rx="22.5" ry="19" transform="rotate(35 396.3 313.6)" fill="none" stroke="#000" stroke-width="1.3"/>
<ellipse cx="398" cy="312.5" rx="16.5" ry="13" transform="rotate(35 398 312.5)" fill="#fff" stroke="#000" stroke-width="2.8"/>
<path d="M396,298 C402,300 406,304 411,306 C414,307 416,309 417,312" fill="none" stroke="#000" stroke-width="1.8"/>
<path d="M388,302 C386,310 389,318 396,322" fill="none" stroke="#000" stroke-width="1.5"/>
<path d="M372.5,282.5 L380.2,285 L381.5,276.7 L387.3,284.4 L389.8,274.8 L394.3,280.6 L398.8,279.3 L406.6,280.6 L405.3,285.7 L410.4,292.1 L414.3,288.3 L413,294.7 L419.4,302.4 L427.1,309.5" fill="none" stroke="#000" stroke-width="1.6" stroke-linejoin="round"/>
<path d="M417,309 L420,318" fill="none" stroke="#000" stroke-width="1.5"/>
<path d="M389,326 L380,338" stroke="#000" stroke-width="1.1"/>
<path d="M374,344 L346,375" stroke="#000" stroke-width="1.1" stroke-dasharray="8,4"/>
</g>
<!-- part 5 coil -->
<g id="p5">
<path d="M284,356 C292,348 305,345 322,349 C345,355 362,372 366.6,396.6 C368,410 366,420 363,429" fill="none" stroke="#000" stroke-width="1.5"/>
<ellipse cx="309.6" cy="403.9" rx="57.5" ry="43.5" transform="rotate(41.5 309.6 403.9)" fill="#000"/>
<ellipse cx="309.6" cy="403.9" rx="27.6" ry="19.3" transform="rotate(41 309.6 403.9)" fill="none" stroke="#fff" stroke-width="0.65" stroke-dasharray="24,6,34,5,24,6,28,3,15,6,25,7,29,3,13,5,19,3,12,6" stroke-dashoffset="51"/>
<ellipse cx="309.6" cy="403.9" rx="30.7" ry="21.8" transform="rotate(41 309.6 403.9)" fill="none" stroke="#fff" stroke-width="0.65" stroke-dasharray="32,7,11,6,22,5,30,7,29,7,15,6,10,6,12,2,11,3,17,6" stroke-dashoffset="1"/>
<ellipse cx="309.6" cy="403.9" rx="33.9" ry="24.4" transform="rotate(41 309.6 403.9)" fill="none" stroke="#fff" stroke-width="0.65" stroke-dasharray="34,5,20,5,28,3,26,3,30,4,25,2,31,2,24,7,18,5,27,2" stroke-dashoffset="45"/>
<ellipse cx="309.6" cy="403.9" rx="37.0" ry="26.9" transform="rotate(41 309.6 403.9)" fill="none" stroke="#fff" stroke-width="0.65" stroke-dasharray="18,4,34,3,26,4,10,2,28,2,22,2,19,5,12,2,31,2,16,3" stroke-dashoffset="59"/>
<ellipse cx="309.6" cy="403.9" rx="40.2" ry="29.5" transform="rotate(41 309.6 403.9)" fill="none" stroke="#fff" stroke-width="0.65" stroke-dasharray="11,5,22,7,22,5,12,6,30,3,34,7,18,4,12,4,20,2,23,2" stroke-dashoffset="8"/>
<ellipse cx="309.6" cy="403.9" rx="43.3" ry="32.0" transform="rotate(41 309.6 403.9)" fill="none" stroke="#fff" stroke-width="0.65" stroke-dasharray="17,7,13,2,11,5,35,5,15,7,27,3,24,6,16,7,34,3,23,7" stroke-dashoffset="24"/>
<ellipse cx="309.6" cy="403.9" rx="46.5" ry="34.6" transform="rotate(41 309.6 403.9)" fill="none" stroke="#fff" stroke-width="0.65" stroke-dasharray="13,5,23,3,10,4,35,6,19,2,16,3,22,6,30,6,13,2,14,3" stroke-dashoffset="28"/>
<ellipse cx="309.6" cy="403.9" rx="49.6" ry="37.1" transform="rotate(41 309.6 403.9)" fill="none" stroke="#fff" stroke-width="0.65" stroke-dasharray="18,2,34,6,20,4,22,2,12,2,16,6,30,3,10,6,21,4,29,5" stroke-dashoffset="8"/>
<ellipse cx="309.6" cy="403.9" rx="52.8" ry="39.7" transform="rotate(41 309.6 403.9)" fill="none" stroke="#fff" stroke-width="0.65" stroke-dasharray="28,5,28,3,22,3,30,3,19,3,29,3,33,3,15,7,30,6,16,7" stroke-dashoffset="60"/>
<ellipse cx="309.6" cy="403.9" rx="55.9" ry="42.2" transform="rotate(41 309.6 403.9)" fill="none" stroke="#fff" stroke-width="0.65" stroke-dasharray="22,5,29,2,23,2,13,2,11,6,18,3,33,7,22,4,23,6,25,4" stroke-dashoffset="33"/>
<ellipse cx="310" cy="405.2" rx="25" ry="17" transform="rotate(39 310 405.2)" fill="#fff"/>
<path d="M294,399 C300,412 312,420 326,420" fill="none" stroke="#000" stroke-width="1.2"/>
<path d="M296,390 C291,391 290,397 294,399 C297,400 300,397 299,393" fill="#fff" stroke="#000" stroke-width="2"/>
<path d="M302,413 L314,400" stroke="#000" stroke-width="1"/>
<path d="M351,372 C350,366 356,363 360,364 C366,366 367,376 361,380 C357,382 352,378 351,372 Z" fill="#fff" stroke="#000" stroke-width="1.8"/>
<path d="M350,376 C353,372 356,370 360,371" fill="none" stroke="#000" stroke-width="1.6"/>
<path d="M279,440 L271,451" stroke="#000" stroke-width="1.1"/>
</g>
<!-- part 15 screw -->
<g transform="translate(535,378.6) rotate(-47)">
<rect x="-17" y="-3.7" width="14" height="7.4" fill="#fff" stroke="#000" stroke-width="2"/>
<ellipse cx="-17" cy="0" rx="2.4" ry="3.7" fill="#fff" stroke="#000" stroke-width="1.9"/>
<circle cx="0" cy="0" r="6.8" fill="#fff" stroke="#000" stroke-width="2.6"/>
<path d="M-4,-3.5 A5,5 0 0 1 4,-3 M4.5,0 L4.5,2.5" fill="none" stroke="#000" stroke-width="1.4" stroke-dasharray="2,1.2"/>
</g>
<path d="M524,392 L466,459" stroke="#000" stroke-width="1"/>
<!-- part 4 -->
<g id="p4">
<path d="M454.5,370.5 L505.5,392 L499,423.6 L486,462.7 L473,486.6 L460,499.6 L487,507.2 L486,514.8 L479.5,526.5 L442.6,508.3 L416.5,491 C430,480 436,472 438.2,467 C444,452 447,440 446.9,436.6 C447,428 446,420 444.7,417.1 L432.8,392 Z" fill="#fff" stroke="#000" stroke-width="1.9" stroke-linejoin="round"/>
<path d="M440.4,385.6 L450.2,410.6 L470.8,419.3 L503.4,395.4" fill="none" stroke="#000" stroke-width="1.8"/>
<path d="M440,386 L448,409" fill="none" stroke="#000" stroke-width="3"/>
<path d="M505.5,392 L499,423.6 L486,462.7 L473,486.6 L460,499.6" fill="none" stroke="#000" stroke-width="4.2" stroke-linejoin="round"/>
<path d="M464.3,436.6 L446.9,493.1" fill="none" stroke="#000" stroke-width="2.6"/>
<path d="M445.8,432.3 L512,444.2" fill="none" stroke="#000" stroke-width="6"/>
<path d="M447,432.5 L511,444" fill="none" stroke="#fff" stroke-width="1.3"/>
<path d="M442.6,495.3 L486,507.2" fill="none" stroke="#000" stroke-width="6"/>
<path d="M444,495.7 L485,507" fill="none" stroke="#fff" stroke-width="1.3"/>
<path d="M501,423 L504,436 M504,426 C506,432 512,432 513,428 L516,430 L515,438" fill="none" stroke="#000" stroke-width="1.8"/>
<circle cx="465.4" cy="426.9" r="6.5" fill="#fff" stroke="#000" stroke-width="2"/>
<circle cx="465.4" cy="426.9" r="2.5" fill="none" stroke="#000" stroke-width="1.6"/>
<circle cx="432.8" cy="492" r="6.5" fill="#fff" stroke="#000" stroke-width="2"/>
<circle cx="432.8" cy="492" r="2.5" fill="none" stroke="#000" stroke-width="1.6"/>
<path d="M424,497 L442,508" fill="none" stroke="#000" stroke-width="1.6"/>
</g>
<!-- part 3 -->
<g id="p3">
<path d="M387,510 C391,504 399,501 406,502 C409,499 416,499 418,503 C424,506 428,512 426.5,520 C425,526 419,527 413,527.5 C410,531.5 404,532 401,528.5 C395,528 388,527 386,521 C384.5,517 385,513 387,510 Z" fill="#fff" stroke="#000" stroke-width="2.3"/>
<path d="M389,512 C397,510 412,509 423,511" fill="none" stroke="#000" stroke-width="1.4"/>
<circle cx="400.6" cy="521" r="3.6" fill="#fff" stroke="#000" stroke-width="2.3"/>
<circle cx="410.8" cy="520" r="3.6" fill="#fff" stroke="#000" stroke-width="2.3"/>
<path d="M389.4,527.4 L357.9,546.9" stroke="#000" stroke-width="1.1"/>
</g>
<!-- part 17 -->
<ellipse cx="102.6" cy="646.3" rx="56" ry="33.6" transform="rotate(58.8 102.6 646.3)" fill="#fff" stroke="#000" stroke-width="1.3"/>
<ellipse cx="100" cy="646.8" rx="56" ry="33.2" transform="rotate(58.8 100 646.8)" fill="#fff" stroke="#000" stroke-width="1.6"/>
<!-- part 16 screw -->
<g transform="translate(218.1,734) rotate(-33)">
<rect x="3" y="-3.6" width="16" height="7.2" rx="2" fill="#fff" stroke="#000" stroke-width="2"/>
</g>
<circle cx="218.1" cy="734" r="7.3" fill="#fff" stroke="#000" stroke-width="2.3"/>
<path d="M211.5,735 C213,731 217,730 219,732.5 C221,735 224,735 224.5,736 C223,740 219,741.5 215.5,740.5 C213,739.5 211.5,737.5 211.5,735 Z" fill="#000"/>
<path d="M237,720 L285.7,688.6" stroke="#000" stroke-width="1.1" stroke-dasharray="14,5,3,5"/>
</g>

<!-- leaders -->
<g class="ld">
<path d="M137 111.7 L185 165.4"/>
<path d="M373 105.6 L338 79.3"/>
<path d="M357.4 165 L303 134"/>
<path d="M312.6 224.9 L254.3 212.6"/>
<path d="M258 325 L208 335.8"/>
<path d="M563.4 46 L608 55.3"/>
<path d="M634 109 L589.4 98"/>
<path d="M607.4 166 L565 151"/>
<path d="M570.4 226 L515.7 212"/>
<path d="M515.4 295.4 L471 292"/>
<path d="M390.4 436.7 L360.9 431.6"/>
<path d="M570 370 L541.4 378.6"/>
<path d="M520 487 L467 461.4"/>
<path d="M437.7 556 L419 525.5"/>
<path d="M149.7 722.9 L121 695.4"/>
<path d="M270 738.6 L228.6 730"/>
<path d="M381.4 727 L351.4 700"/>
</g>
<!-- labels -->
<g class="lab" fill="#000">
<path d="M132.20,95.40 L132.20,108.60 L129.90,108.60 L129.90,99.30 C128.90,100.30 127.50,101.00 125.90,101.50 L125.90,99.60 C128.20,98.80 129.80,97.00 130.50,95.40 Z"/>
<path d="M382.60,97.50 L382.60,110.70 L380.30,110.70 L380.30,101.40 C379.30,102.40 377.90,103.10 376.30,103.60 L376.30,101.70 C378.60,100.90 380.20,99.10 380.90,97.50 Z"/>
<path d="M391.70,97.50 L391.70,110.70 L389.40,110.70 L389.40,101.40 C388.40,102.40 387.00,103.10 385.40,103.60 L385.40,101.70 C387.70,100.90 389.30,99.10 390.00,97.50 Z"/>
<path d="M364.20,156.50 L364.20,169.70 L361.90,169.70 L361.90,160.40 C360.90,161.40 359.50,162.10 357.90,162.60 L357.90,160.70 C360.20,159.90 361.80,158.10 362.50,156.50 Z"/>
<text x="366.00" y="169.70">2</text>
<path d="M321.60,216.70 L321.60,229.90 L319.30,229.90 L319.30,220.60 C318.30,221.60 316.90,222.30 315.30,222.80 L315.30,220.90 C317.60,220.10 319.20,218.30 319.90,216.70 Z"/>
<text x="323.40" y="229.90">3</text>
<path d="M264.05,315.30 L264.05,328.50 L261.75,328.50 L261.75,319.20 C260.75,320.20 259.35,320.90 257.75,321.40 L257.75,319.50 C260.05,318.70 261.65,316.90 262.35,315.30 Z"/>
<text x="266.85" y="328.50">4</text>
<path d="M554.40,32.80 L554.40,46.00 L552.10,46.00 L552.10,36.70 C551.10,37.70 549.70,38.40 548.10,38.90 L548.10,37.00 C550.40,36.20 552.00,34.40 552.70,32.80 Z"/>
<text x="556.20" y="46.00">0</text>
<text x="632.20" y="113.70">9</text>
<text x="656.80" y="16.50">C</text>
<text x="606.70" y="168.70">8</text>
<text x="570.00" y="229.60">7</text>
<text x="516.30" y="299.80">6</text>
<text x="390.40" y="442.80">5</text>
<path d="M577.30,362.30 L577.30,375.50 L575.00,375.50 L575.00,366.20 C574.00,367.20 572.60,367.90 571.00,368.40 L571.00,366.50 C573.30,365.70 574.90,363.90 575.60,362.30 Z"/>
<text x="579.10" y="375.50">5</text>
<text x="521.00" y="493.00">4</text>
<text x="428.20" y="571.90">3</text>
<path d="M157.30,711.50 L157.30,724.70 L155.00,724.70 L155.00,715.40 C154.00,716.40 152.60,717.10 151.00,717.60 L151.00,715.70 C153.30,714.90 154.90,713.10 155.60,711.50 Z"/>
<text x="159.10" y="724.70">7</text>
<path d="M276.05,729.30 L276.05,742.50 L273.75,742.50 L273.75,733.20 C272.75,734.20 271.35,734.90 269.75,735.40 L269.75,733.50 C272.05,732.70 273.65,730.90 274.35,729.30 Z"/>
<text x="277.85" y="742.50">6</text>
<text x="381.00" y="732.60">2</text>
</g>
<polygon points="325,4 588,4 690,70 690,273 500,752 33,752 33,332" fill="none" stroke="#e8000c" stroke-width="3.2" stroke-linejoin="miter"/>
</svg>
</body></html>
